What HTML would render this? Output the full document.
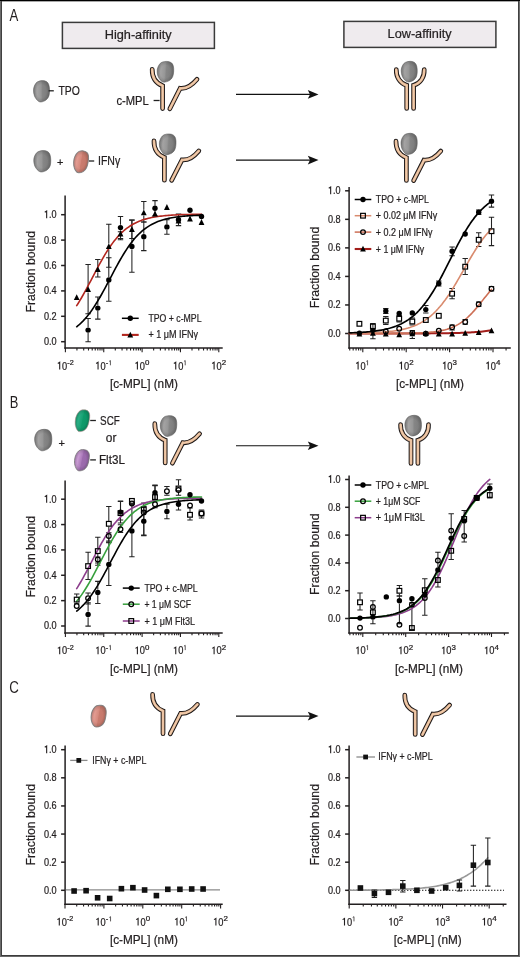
<!DOCTYPE html>
<html><head><meta charset="utf-8"><style>
html,body{margin:0;padding:0;background:#fff;overflow:hidden;}
svg{display:block;will-change:transform;}
text{font-family:"Liberation Sans", sans-serif;stroke:#231f20;stroke-width:0.22px;}
</style></head><body>
<svg width="520" height="957" viewBox="0 0 520 957">
<defs>
<linearGradient id="gGray" x1="0" y1="0" x2="1" y2="0">
<stop offset="0" stop-color="#8a8a8a"/><stop offset="0.22" stop-color="#a4a3a3"/><stop offset="0.46" stop-color="#979797"/><stop offset="0.56" stop-color="#868686"/><stop offset="1" stop-color="#787878"/>
</linearGradient>
<radialGradient id="gEdge" cx="0.5" cy="0.5" r="0.5">
<stop offset="0.6" stop-color="#000" stop-opacity="0"/><stop offset="1" stop-color="#000" stop-opacity="0.16"/>
</radialGradient>
<linearGradient id="gRed" x1="0" y1="0" x2="1" y2="0">
<stop offset="0" stop-color="#d98f86"/><stop offset="0.22" stop-color="#e39b91"/><stop offset="0.48" stop-color="#d5897d"/><stop offset="0.53" stop-color="#ca7c6f"/><stop offset="1" stop-color="#c37668"/>
</linearGradient>
<linearGradient id="gGreen" x1="0" y1="0" x2="1" y2="0">
<stop offset="0" stop-color="#1aa374"/><stop offset="0.22" stop-color="#2bae85"/><stop offset="0.48" stop-color="#17a172"/><stop offset="0.53" stop-color="#0e9b6a"/><stop offset="1" stop-color="#0c9164"/>
</linearGradient>
<linearGradient id="gPurple" x1="0" y1="0" x2="1" y2="0">
<stop offset="0" stop-color="#b98ac6"/><stop offset="0.22" stop-color="#c99cd3"/><stop offset="0.48" stop-color="#ab7aba"/><stop offset="0.53" stop-color="#9d6bae"/><stop offset="1" stop-color="#9566a8"/>
</linearGradient>
</defs>
<rect x="0" y="0" width="520" height="957" fill="#fff"/>
<g shape-rendering="crispEdges">
<rect x="0" y="0" width="1" height="957" fill="#6b6b6b"/>
<rect x="1" y="0" width="1" height="957" fill="#404040"/>
<rect x="519" y="0" width="1" height="957" fill="#6e6e6e"/>
<rect x="518" y="0" width="1" height="957" fill="#404040"/>
<rect x="0" y="956" width="520" height="1" fill="#6a6a6a"/>
<rect x="1" y="955" width="518" height="1" fill="#3c3c3c"/>
<rect x="2" y="1" width="516" height="1" fill="#a8a8a8"/>
<rect x="0" y="0" width="520" height="1" fill="#000"/>
</g>
<text x="9.4" y="20.5" font-size="15.6" text-anchor="start" fill="#231f20" textLength="8.8" lengthAdjust="spacingAndGlyphs" style="stroke:none">A</text>
<text x="9.7" y="408.1" font-size="15.6" text-anchor="start" fill="#231f20" textLength="8.6" lengthAdjust="spacingAndGlyphs" style="stroke:none">B</text>
<text x="9.3" y="693.1" font-size="15.6" text-anchor="start" fill="#231f20" textLength="9.6" lengthAdjust="spacingAndGlyphs" style="stroke:none">C</text>
<rect x="62.4" y="22.4" width="152" height="26" fill="#efebee" stroke="#3a3a3a" stroke-width="1.5"/>
<text x="138.2" y="39.4" font-size="12.6" text-anchor="middle" fill="#231f20" textLength="67" lengthAdjust="spacingAndGlyphs">High-affinity</text>
<rect x="343.9" y="21.4" width="152" height="26" fill="#efebee" stroke="#3a3a3a" stroke-width="1.5"/>
<text x="419.6" y="38.4" font-size="12.6" text-anchor="middle" fill="#231f20" textLength="64" lengthAdjust="spacingAndGlyphs">Low-affinity</text>
<g transform="translate(41.6,91.25) rotate(0)">
<path d="M0.81,-10.64C2.29,-10.68 3.81,-10.34 4.86,-9.68C5.91,-9.01 6.62,-8.06 7.13,-6.67C7.64,-5.27 7.91,-3.19 7.94,-1.29C7.96,0.61 7.88,3.05 7.29,4.73C6.7,6.41 5.7,7.81 4.37,8.81C3.05,9.82 0.76,10.68 -0.65,10.75C-2.05,10.82 -2.97,10.25 -4.05,9.24C-5.13,8.24 -6.45,6.49 -7.13,4.73C-7.8,2.97 -8.15,0.54 -8.1,-1.29C-8.05,-3.12 -7.48,-4.87 -6.8,-6.23C-6.13,-7.6 -5.32,-8.73 -4.05,-9.46C-2.78,-10.19 -0.68,-10.61 0.81,-10.64Z" fill="url(#gGray)" stroke="#6e6e6e" stroke-width="0.6"/>
<path d="M0.81,-10.64C2.29,-10.68 3.81,-10.34 4.86,-9.68C5.91,-9.01 6.62,-8.06 7.13,-6.67C7.64,-5.27 7.91,-3.19 7.94,-1.29C7.96,0.61 7.88,3.05 7.29,4.73C6.7,6.41 5.7,7.81 4.37,8.81C3.05,9.82 0.76,10.68 -0.65,10.75C-2.05,10.82 -2.97,10.25 -4.05,9.24C-5.13,8.24 -6.45,6.49 -7.13,4.73C-7.8,2.97 -8.15,0.54 -8.1,-1.29C-8.05,-3.12 -7.48,-4.87 -6.8,-6.23C-6.13,-7.6 -5.32,-8.73 -4.05,-9.46C-2.78,-10.19 -0.68,-10.61 0.81,-10.64Z" fill="url(#gEdge)"/>
</g>
<path d="M48.6,90.8H53.8" stroke="#222" stroke-width="1.3"/>
<text x="58.4" y="94.8" font-size="12.6" text-anchor="start" fill="#231f20" textLength="21.4" lengthAdjust="spacingAndGlyphs">TPO</text>
<g transform="translate(165.45,71.7) rotate(4)">
<path d="M0.83,-10.39C2.37,-10.43 3.92,-10.1 5.01,-9.45C6.1,-8.8 6.82,-7.88 7.35,-6.51C7.88,-5.14 8.16,-3.11 8.18,-1.26C8.21,0.59 8.13,2.98 7.51,4.62C6.9,6.26 5.87,7.63 4.51,8.61C3.15,9.59 0.78,10.43 -0.67,10.5C-2.12,10.57 -3.06,10.01 -4.17,9.03C-5.29,8.05 -6.65,6.33 -7.35,4.62C-8.04,2.91 -8.41,0.53 -8.35,-1.26C-8.29,-3.04 -7.71,-4.76 -7.01,-6.09C-6.32,-7.42 -5.48,-8.52 -4.17,-9.24C-2.87,-9.96 -0.7,-10.36 0.83,-10.39Z" fill="url(#gGray)" stroke="#6e6e6e" stroke-width="0.6"/>
<path d="M0.83,-10.39C2.37,-10.43 3.92,-10.1 5.01,-9.45C6.1,-8.8 6.82,-7.88 7.35,-6.51C7.88,-5.14 8.16,-3.11 8.18,-1.26C8.21,0.59 8.13,2.98 7.51,4.62C6.9,6.26 5.87,7.63 4.51,8.61C3.15,9.59 0.78,10.43 -0.67,10.5C-2.12,10.57 -3.06,10.01 -4.17,9.03C-5.29,8.05 -6.65,6.33 -7.35,4.62C-8.04,2.91 -8.41,0.53 -8.35,-1.26C-8.29,-3.04 -7.71,-4.76 -7.01,-6.09C-6.32,-7.42 -5.48,-8.52 -4.17,-9.24C-2.87,-9.96 -0.7,-10.36 0.83,-10.39Z" fill="url(#gEdge)"/>
</g>
<path d="M152.2,69.3 C152,77 155.5,83 162.6,85.8 L162.6,108.6" fill="none" stroke="#1c1818" stroke-width="4.7" stroke-linecap="round" stroke-linejoin="miter"/>
<path d="M152.2,69.3 C152,77 155.5,83 162.6,85.8 L162.6,108.6" fill="none" stroke="#e6b894" stroke-width="2.7" stroke-linecap="round" stroke-linejoin="miter"/>
<path d="M152.2,69.3 C152,77 155.5,83 162.6,85.8 L162.6,108.6" fill="none" stroke="#f1cdae" stroke-width="1.1" stroke-linecap="round" stroke-linejoin="miter"/>
<path d="M169.8,108.8 L180.2,88.3 C185,88.8 191,86.5 197,79.3" fill="none" stroke="#1c1818" stroke-width="4.7" stroke-linecap="round" stroke-linejoin="miter"/>
<path d="M169.8,108.8 L180.2,88.3 C185,88.8 191,86.5 197,79.3" fill="none" stroke="#e6b894" stroke-width="2.7" stroke-linecap="round" stroke-linejoin="miter"/>
<path d="M169.8,108.8 L180.2,88.3 C185,88.8 191,86.5 197,79.3" fill="none" stroke="#f1cdae" stroke-width="1.1" stroke-linecap="round" stroke-linejoin="miter"/>
<path d="M153.6,100.5H159.6" stroke="#222" stroke-width="1.3"/>
<text x="116.5" y="104.6" font-size="12" text-anchor="start" fill="#231f20" textLength="32.3" lengthAdjust="spacingAndGlyphs">c-MPL</text>
<path d="M236,94.4H310" stroke="#111" stroke-width="1.1"/>
<path d="M318.5,94.4 L307.8,90.1 L310,94.4 L307.8,98.7 Z" fill="#111"/>
<path d="M396.3,69.6 C396,77 400,83.5 406.7,85.3 L406.7,108.4" fill="none" stroke="#1c1818" stroke-width="4.7" stroke-linecap="round" stroke-linejoin="miter"/>
<path d="M396.3,69.6 C396,77 400,83.5 406.7,85.3 L406.7,108.4" fill="none" stroke="#e6b894" stroke-width="2.7" stroke-linecap="round" stroke-linejoin="miter"/>
<path d="M396.3,69.6 C396,77 400,83.5 406.7,85.3 L406.7,108.4" fill="none" stroke="#f1cdae" stroke-width="1.1" stroke-linecap="round" stroke-linejoin="miter"/>
<path d="M424.2,69.6 C424.5,77 420.5,83.5 413.6,85.3 L413.6,108.4" fill="none" stroke="#1c1818" stroke-width="4.7" stroke-linecap="round" stroke-linejoin="miter"/>
<path d="M424.2,69.6 C424.5,77 420.5,83.5 413.6,85.3 L413.6,108.4" fill="none" stroke="#e6b894" stroke-width="2.7" stroke-linecap="round" stroke-linejoin="miter"/>
<path d="M424.2,69.6 C424.5,77 420.5,83.5 413.6,85.3 L413.6,108.4" fill="none" stroke="#f1cdae" stroke-width="1.1" stroke-linecap="round" stroke-linejoin="miter"/>
<g transform="translate(409.3,71.6) rotate(0)">
<path d="M0.81,-10.3C2.29,-10.33 3.81,-10 4.86,-9.36C5.91,-8.72 6.62,-7.8 7.13,-6.45C7.64,-5.1 7.91,-3.09 7.94,-1.25C7.96,0.59 7.88,2.95 7.29,4.58C6.7,6.21 5.7,7.56 4.37,8.53C3.05,9.5 0.76,10.33 -0.65,10.4C-2.05,10.47 -2.97,9.91 -4.05,8.94C-5.13,7.97 -6.45,6.27 -7.13,4.58C-7.8,2.88 -8.15,0.52 -8.1,-1.25C-8.05,-3.02 -7.48,-4.71 -6.8,-6.03C-6.13,-7.35 -5.32,-8.44 -4.05,-9.15C-2.78,-9.86 -0.68,-10.26 0.81,-10.3Z" fill="url(#gGray)" stroke="#6e6e6e" stroke-width="0.6"/>
<path d="M0.81,-10.3C2.29,-10.33 3.81,-10 4.86,-9.36C5.91,-8.72 6.62,-7.8 7.13,-6.45C7.64,-5.1 7.91,-3.09 7.94,-1.25C7.96,0.59 7.88,2.95 7.29,4.58C6.7,6.21 5.7,7.56 4.37,8.53C3.05,9.5 0.76,10.33 -0.65,10.4C-2.05,10.47 -2.97,9.91 -4.05,8.94C-5.13,7.97 -6.45,6.27 -7.13,4.58C-7.8,2.88 -8.15,0.52 -8.1,-1.25C-8.05,-3.02 -7.48,-4.71 -6.8,-6.03C-6.13,-7.35 -5.32,-8.44 -4.05,-9.15C-2.78,-9.86 -0.68,-10.26 0.81,-10.3Z" fill="url(#gEdge)"/>
</g>
<g transform="translate(42.35,161.2) rotate(0)">
<path d="M0.86,-10.69C2.44,-10.73 4.04,-10.39 5.16,-9.72C6.28,-9.05 7.02,-8.1 7.57,-6.7C8.11,-5.29 8.4,-3.2 8.43,-1.3C8.46,0.61 8.37,3.06 7.74,4.75C7.11,6.44 6.05,7.85 4.64,8.86C3.24,9.86 0.8,10.73 -0.69,10.8C-2.18,10.87 -3.15,10.3 -4.3,9.29C-5.45,8.28 -6.85,6.52 -7.57,4.75C-8.28,2.99 -8.66,0.54 -8.6,-1.3C-8.54,-3.13 -7.94,-4.9 -7.22,-6.26C-6.51,-7.63 -5.65,-8.77 -4.3,-9.5C-2.95,-10.24 -0.72,-10.66 0.86,-10.69Z" fill="url(#gGray)" stroke="#6e6e6e" stroke-width="0.6"/>
<path d="M0.86,-10.69C2.44,-10.73 4.04,-10.39 5.16,-9.72C6.28,-9.05 7.02,-8.1 7.57,-6.7C8.11,-5.29 8.4,-3.2 8.43,-1.3C8.46,0.61 8.37,3.06 7.74,4.75C7.11,6.44 6.05,7.85 4.64,8.86C3.24,9.86 0.8,10.73 -0.69,10.8C-2.18,10.87 -3.15,10.3 -4.3,9.29C-5.45,8.28 -6.85,6.52 -7.57,4.75C-8.28,2.99 -8.66,0.54 -8.6,-1.3C-8.54,-3.13 -7.94,-4.9 -7.22,-6.26C-6.51,-7.63 -5.65,-8.77 -4.3,-9.5C-2.95,-10.24 -0.72,-10.66 0.86,-10.69Z" fill="url(#gEdge)"/>
</g>
<text x="60.3" y="165.6" font-size="11" text-anchor="middle" fill="#231f20">+</text>
<g transform="translate(80.95,161.8) rotate(10)">
<path d="M0.73,-11.19C2.07,-11.22 3.43,-10.87 4.38,-10.17C5.33,-9.47 5.96,-8.48 6.42,-7.01C6.89,-5.54 7.13,-3.35 7.15,-1.36C7.18,0.64 7.11,3.2 6.57,4.97C6.03,6.74 5.13,8.21 3.94,9.27C2.75,10.32 0.68,11.22 -0.58,11.3C-1.85,11.38 -2.68,10.77 -3.65,9.72C-4.62,8.66 -5.82,6.82 -6.42,4.97C-7.03,3.13 -7.35,0.56 -7.3,-1.36C-7.25,-3.28 -6.74,-5.12 -6.13,-6.55C-5.52,-7.99 -4.79,-9.17 -3.65,-9.94C-2.51,-10.72 -0.61,-11.15 0.73,-11.19Z" fill="url(#gRed)" stroke="#8f8f8f" stroke-width="1"/>
<path d="M0.73,-11.19C2.07,-11.22 3.43,-10.87 4.38,-10.17C5.33,-9.47 5.96,-8.48 6.42,-7.01C6.89,-5.54 7.13,-3.35 7.15,-1.36C7.18,0.64 7.11,3.2 6.57,4.97C6.03,6.74 5.13,8.21 3.94,9.27C2.75,10.32 0.68,11.22 -0.58,11.3C-1.85,11.38 -2.68,10.77 -3.65,9.72C-4.62,8.66 -5.82,6.82 -6.42,4.97C-7.03,3.13 -7.35,0.56 -7.3,-1.36C-7.25,-3.28 -6.74,-5.12 -6.13,-6.55C-5.52,-7.99 -4.79,-9.17 -3.65,-9.94C-2.51,-10.72 -0.61,-11.15 0.73,-11.19Z" fill="url(#gEdge)"/>
</g>
<path d="M89,161H94.2" stroke="#222" stroke-width="1.3"/>
<text x="98" y="164.8" font-size="12" text-anchor="start" fill="#231f20" textLength="22.2" lengthAdjust="spacingAndGlyphs">IFNγ</text>
<path d="M154,140.9 C153.8,148.6 157.3,154.6 164.4,157.4 L164.4,180.2" fill="none" stroke="#1c1818" stroke-width="4.7" stroke-linecap="round" stroke-linejoin="miter"/>
<path d="M154,140.9 C153.8,148.6 157.3,154.6 164.4,157.4 L164.4,180.2" fill="none" stroke="#e6b894" stroke-width="2.7" stroke-linecap="round" stroke-linejoin="miter"/>
<path d="M154,140.9 C153.8,148.6 157.3,154.6 164.4,157.4 L164.4,180.2" fill="none" stroke="#f1cdae" stroke-width="1.1" stroke-linecap="round" stroke-linejoin="miter"/>
<path d="M171.6,180.4 L182,159.9 C186.8,160.4 192.8,158.1 198.8,150.9" fill="none" stroke="#1c1818" stroke-width="4.7" stroke-linecap="round" stroke-linejoin="miter"/>
<path d="M171.6,180.4 L182,159.9 C186.8,160.4 192.8,158.1 198.8,150.9" fill="none" stroke="#e6b894" stroke-width="2.7" stroke-linecap="round" stroke-linejoin="miter"/>
<path d="M171.6,180.4 L182,159.9 C186.8,160.4 192.8,158.1 198.8,150.9" fill="none" stroke="#f1cdae" stroke-width="1.1" stroke-linecap="round" stroke-linejoin="miter"/>
<g transform="translate(167.7,144.25) rotate(4)">
<path d="M0.84,-10.39C2.38,-10.43 3.95,-10.1 5.04,-9.45C6.13,-8.8 6.86,-7.88 7.39,-6.51C7.92,-5.14 8.2,-3.11 8.23,-1.26C8.26,0.59 8.18,2.98 7.56,4.62C6.94,6.26 5.91,7.63 4.54,8.61C3.16,9.59 0.78,10.43 -0.67,10.5C-2.13,10.57 -3.08,10.01 -4.2,9.03C-5.32,8.05 -6.69,6.33 -7.39,4.62C-8.09,2.91 -8.46,0.53 -8.4,-1.26C-8.34,-3.04 -7.76,-4.76 -7.06,-6.09C-6.36,-7.42 -5.52,-8.52 -4.2,-9.24C-2.88,-9.96 -0.7,-10.36 0.84,-10.39Z" fill="url(#gGray)" stroke="#6e6e6e" stroke-width="0.6"/>
<path d="M0.84,-10.39C2.38,-10.43 3.95,-10.1 5.04,-9.45C6.13,-8.8 6.86,-7.88 7.39,-6.51C7.92,-5.14 8.2,-3.11 8.23,-1.26C8.26,0.59 8.18,2.98 7.56,4.62C6.94,6.26 5.91,7.63 4.54,8.61C3.16,9.59 0.78,10.43 -0.67,10.5C-2.13,10.57 -3.08,10.01 -4.2,9.03C-5.32,8.05 -6.69,6.33 -7.39,4.62C-8.09,2.91 -8.46,0.53 -8.4,-1.26C-8.34,-3.04 -7.76,-4.76 -7.06,-6.09C-6.36,-7.42 -5.52,-8.52 -4.2,-9.24C-2.88,-9.96 -0.7,-10.36 0.84,-10.39Z" fill="url(#gEdge)"/>
</g>
<path d="M236,160.1H310" stroke="#111" stroke-width="1.1"/>
<path d="M318.5,160.1 L307.8,155.8 L310,160.1 L307.8,164.4 Z" fill="#111"/>
<path d="M396,141.1 C395.8,148.8 399.3,154.8 406.4,157.6 L406.4,180.4" fill="none" stroke="#1c1818" stroke-width="4.7" stroke-linecap="round" stroke-linejoin="miter"/>
<path d="M396,141.1 C395.8,148.8 399.3,154.8 406.4,157.6 L406.4,180.4" fill="none" stroke="#e6b894" stroke-width="2.7" stroke-linecap="round" stroke-linejoin="miter"/>
<path d="M396,141.1 C395.8,148.8 399.3,154.8 406.4,157.6 L406.4,180.4" fill="none" stroke="#f1cdae" stroke-width="1.1" stroke-linecap="round" stroke-linejoin="miter"/>
<path d="M413.6,180.6 L424,160.1 C428.8,160.6 434.8,158.3 440.8,151.1" fill="none" stroke="#1c1818" stroke-width="4.7" stroke-linecap="round" stroke-linejoin="miter"/>
<path d="M413.6,180.6 L424,160.1 C428.8,160.6 434.8,158.3 440.8,151.1" fill="none" stroke="#e6b894" stroke-width="2.7" stroke-linecap="round" stroke-linejoin="miter"/>
<path d="M413.6,180.6 L424,160.1 C428.8,160.6 434.8,158.3 440.8,151.1" fill="none" stroke="#f1cdae" stroke-width="1.1" stroke-linecap="round" stroke-linejoin="miter"/>
<g transform="translate(409.15,143.85) rotate(2)">
<path d="M0.82,-10.59C2.32,-10.63 3.85,-10.29 4.92,-9.63C5.99,-8.97 6.7,-8.02 7.22,-6.63C7.74,-5.24 8.01,-3.17 8.04,-1.28C8.06,0.61 7.98,3.03 7.38,4.71C6.78,6.38 5.77,7.78 4.43,8.77C3.09,9.77 0.77,10.63 -0.66,10.7C-2.08,10.77 -3.01,10.2 -4.1,9.2C-5.19,8.2 -6.53,6.46 -7.22,4.71C-7.9,2.96 -8.25,0.53 -8.2,-1.28C-8.15,-3.1 -7.57,-4.85 -6.89,-6.21C-6.2,-7.56 -5.38,-8.68 -4.1,-9.42C-2.82,-10.15 -0.68,-10.56 0.82,-10.59Z" fill="url(#gGray)" stroke="#6e6e6e" stroke-width="0.6"/>
<path d="M0.82,-10.59C2.32,-10.63 3.85,-10.29 4.92,-9.63C5.99,-8.97 6.7,-8.02 7.22,-6.63C7.74,-5.24 8.01,-3.17 8.04,-1.28C8.06,0.61 7.98,3.03 7.38,4.71C6.78,6.38 5.77,7.78 4.43,8.77C3.09,9.77 0.77,10.63 -0.66,10.7C-2.08,10.77 -3.01,10.2 -4.1,9.2C-5.19,8.2 -6.53,6.46 -7.22,4.71C-7.9,2.96 -8.25,0.53 -8.2,-1.28C-8.15,-3.1 -7.57,-4.85 -6.89,-6.21C-6.2,-7.56 -5.38,-8.68 -4.1,-9.42C-2.82,-10.15 -0.68,-10.56 0.82,-10.59Z" fill="url(#gEdge)"/>
</g>
<g transform="translate(43.3,440) rotate(0)">
<path d="M0.87,-10.69C2.46,-10.73 4.09,-10.39 5.22,-9.72C6.35,-9.05 7.1,-8.1 7.66,-6.7C8.21,-5.29 8.5,-3.2 8.53,-1.3C8.55,0.61 8.47,3.06 7.83,4.75C7.19,6.44 6.12,7.85 4.7,8.86C3.28,9.86 0.81,10.73 -0.7,10.8C-2.2,10.87 -3.19,10.3 -4.35,9.29C-5.51,8.28 -6.93,6.52 -7.66,4.75C-8.38,2.99 -8.76,0.54 -8.7,-1.3C-8.64,-3.13 -8.03,-4.9 -7.31,-6.26C-6.58,-7.63 -5.71,-8.77 -4.35,-9.5C-2.99,-10.24 -0.72,-10.66 0.87,-10.69Z" fill="url(#gGray)" stroke="#6e6e6e" stroke-width="0.6"/>
<path d="M0.87,-10.69C2.46,-10.73 4.09,-10.39 5.22,-9.72C6.35,-9.05 7.1,-8.1 7.66,-6.7C8.21,-5.29 8.5,-3.2 8.53,-1.3C8.55,0.61 8.47,3.06 7.83,4.75C7.19,6.44 6.12,7.85 4.7,8.86C3.28,9.86 0.81,10.73 -0.7,10.8C-2.2,10.87 -3.19,10.3 -4.35,9.29C-5.51,8.28 -6.93,6.52 -7.66,4.75C-8.38,2.99 -8.76,0.54 -8.7,-1.3C-8.64,-3.13 -8.03,-4.9 -7.31,-6.26C-6.58,-7.63 -5.71,-8.77 -4.35,-9.5C-2.99,-10.24 -0.72,-10.66 0.87,-10.69Z" fill="url(#gEdge)"/>
</g>
<text x="61.6" y="446.6" font-size="11" text-anchor="middle" fill="#231f20">+</text>
<g transform="translate(82.25,420.65) rotate(12)">
<path d="M0.7,-11.19C1.98,-11.22 3.29,-10.87 4.2,-10.17C5.11,-9.47 5.72,-8.48 6.16,-7.01C6.6,-5.54 6.84,-3.35 6.86,-1.36C6.88,0.64 6.81,3.2 6.3,4.97C5.79,6.74 4.92,8.21 3.78,9.27C2.64,10.32 0.65,11.22 -0.56,11.3C-1.77,11.38 -2.57,10.77 -3.5,9.72C-4.43,8.66 -5.58,6.82 -6.16,4.97C-6.74,3.13 -7.05,0.56 -7,-1.36C-6.95,-3.28 -6.46,-5.12 -5.88,-6.55C-5.3,-7.99 -4.6,-9.17 -3.5,-9.94C-2.4,-10.72 -0.58,-11.15 0.7,-11.19Z" fill="url(#gGreen)" stroke="#c8a0a0" stroke-width="0.6"/>
<path d="M0.7,-11.19C1.98,-11.22 3.29,-10.87 4.2,-10.17C5.11,-9.47 5.72,-8.48 6.16,-7.01C6.6,-5.54 6.84,-3.35 6.86,-1.36C6.88,0.64 6.81,3.2 6.3,4.97C5.79,6.74 4.92,8.21 3.78,9.27C2.64,10.32 0.65,11.22 -0.56,11.3C-1.77,11.38 -2.57,10.77 -3.5,9.72C-4.43,8.66 -5.58,6.82 -6.16,4.97C-6.74,3.13 -7.05,0.56 -7,-1.36C-6.95,-3.28 -6.46,-5.12 -5.88,-6.55C-5.3,-7.99 -4.6,-9.17 -3.5,-9.94C-2.4,-10.72 -0.58,-11.15 0.7,-11.19Z" fill="url(#gEdge)"/>
</g>
<path d="M90.2,420.5H95.9" stroke="#222" stroke-width="1.3"/>
<text x="100.1" y="425" font-size="12" text-anchor="start" fill="#231f20" textLength="19.7" lengthAdjust="spacingAndGlyphs">SCF</text>
<text x="111.1" y="442.3" font-size="12" text-anchor="middle" fill="#231f20" textLength="10.6" lengthAdjust="spacingAndGlyphs">or</text>
<g transform="translate(81.75,460.2) rotate(12)">
<path d="M0.72,-10.89C2.04,-10.93 3.38,-10.58 4.32,-9.9C5.26,-9.22 5.88,-8.25 6.34,-6.82C6.79,-5.39 7.03,-3.26 7.06,-1.32C7.08,0.62 7.01,3.12 6.48,4.84C5.95,6.56 5.06,7.99 3.89,9.02C2.71,10.05 0.67,10.93 -0.58,11C-1.82,11.07 -2.64,10.49 -3.6,9.46C-4.56,8.43 -5.74,6.64 -6.34,4.84C-6.94,3.04 -7.25,0.55 -7.2,-1.32C-7.15,-3.19 -6.65,-4.99 -6.05,-6.38C-5.45,-7.77 -4.73,-8.93 -3.6,-9.68C-2.47,-10.43 -0.6,-10.85 0.72,-10.89Z" fill="url(#gPurple)" stroke="#8a8a8a" stroke-width="0.8"/>
<path d="M0.72,-10.89C2.04,-10.93 3.38,-10.58 4.32,-9.9C5.26,-9.22 5.88,-8.25 6.34,-6.82C6.79,-5.39 7.03,-3.26 7.06,-1.32C7.08,0.62 7.01,3.12 6.48,4.84C5.95,6.56 5.06,7.99 3.89,9.02C2.71,10.05 0.67,10.93 -0.58,11C-1.82,11.07 -2.64,10.49 -3.6,9.46C-4.56,8.43 -5.74,6.64 -6.34,4.84C-6.94,3.04 -7.25,0.55 -7.2,-1.32C-7.15,-3.19 -6.65,-4.99 -6.05,-6.38C-5.45,-7.77 -4.73,-8.93 -3.6,-9.68C-2.47,-10.43 -0.6,-10.85 0.72,-10.89Z" fill="url(#gEdge)"/>
</g>
<path d="M90.2,459.9H95.9" stroke="#222" stroke-width="1.3"/>
<text x="99" y="463.9" font-size="12" text-anchor="start" fill="#231f20" textLength="25.9" lengthAdjust="spacingAndGlyphs">Flt3L</text>
<path d="M154.8,423.7 C154.6,431.4 158.1,437.4 165.2,440.2 L165.2,463" fill="none" stroke="#1c1818" stroke-width="4.7" stroke-linecap="round" stroke-linejoin="miter"/>
<path d="M154.8,423.7 C154.6,431.4 158.1,437.4 165.2,440.2 L165.2,463" fill="none" stroke="#e6b894" stroke-width="2.7" stroke-linecap="round" stroke-linejoin="miter"/>
<path d="M154.8,423.7 C154.6,431.4 158.1,437.4 165.2,440.2 L165.2,463" fill="none" stroke="#f1cdae" stroke-width="1.1" stroke-linecap="round" stroke-linejoin="miter"/>
<path d="M172.4,463.2 L182.8,442.7 C187.6,443.2 193.6,440.9 199.6,433.7" fill="none" stroke="#1c1818" stroke-width="4.7" stroke-linecap="round" stroke-linejoin="miter"/>
<path d="M172.4,463.2 L182.8,442.7 C187.6,443.2 193.6,440.9 199.6,433.7" fill="none" stroke="#e6b894" stroke-width="2.7" stroke-linecap="round" stroke-linejoin="miter"/>
<path d="M172.4,463.2 L182.8,442.7 C187.6,443.2 193.6,440.9 199.6,433.7" fill="none" stroke="#f1cdae" stroke-width="1.1" stroke-linecap="round" stroke-linejoin="miter"/>
<g transform="translate(168.55,425.95) rotate(4)">
<path d="M0.83,-10.39C2.35,-10.43 3.9,-10.1 4.98,-9.45C6.06,-8.8 6.78,-7.88 7.3,-6.51C7.83,-5.14 8.11,-3.11 8.13,-1.26C8.16,0.59 8.08,2.98 7.47,4.62C6.86,6.26 5.84,7.63 4.48,8.61C3.13,9.59 0.77,10.43 -0.66,10.5C-2.1,10.57 -3.04,10.01 -4.15,9.03C-5.26,8.05 -6.61,6.33 -7.3,4.62C-8,2.91 -8.36,0.53 -8.3,-1.26C-8.24,-3.04 -7.66,-4.76 -6.97,-6.09C-6.28,-7.42 -5.45,-8.52 -4.15,-9.24C-2.85,-9.96 -0.69,-10.36 0.83,-10.39Z" fill="url(#gGray)" stroke="#6e6e6e" stroke-width="0.6"/>
<path d="M0.83,-10.39C2.35,-10.43 3.9,-10.1 4.98,-9.45C6.06,-8.8 6.78,-7.88 7.3,-6.51C7.83,-5.14 8.11,-3.11 8.13,-1.26C8.16,0.59 8.08,2.98 7.47,4.62C6.86,6.26 5.84,7.63 4.48,8.61C3.13,9.59 0.77,10.43 -0.66,10.5C-2.1,10.57 -3.04,10.01 -4.15,9.03C-5.26,8.05 -6.61,6.33 -7.3,4.62C-8,2.91 -8.36,0.53 -8.3,-1.26C-8.24,-3.04 -7.66,-4.76 -6.97,-6.09C-6.28,-7.42 -5.45,-8.52 -4.15,-9.24C-2.85,-9.96 -0.69,-10.36 0.83,-10.39Z" fill="url(#gEdge)"/>
</g>
<path d="M236,445.8H310" stroke="#111" stroke-width="1.1"/>
<path d="M318.5,445.8 L307.8,441.5 L310,445.8 L307.8,450.1 Z" fill="#111"/>
<path d="M400.6,424.6 C400.3,432 404.3,438.5 411,440.3 L411,463.4" fill="none" stroke="#1c1818" stroke-width="4.7" stroke-linecap="round" stroke-linejoin="miter"/>
<path d="M400.6,424.6 C400.3,432 404.3,438.5 411,440.3 L411,463.4" fill="none" stroke="#e6b894" stroke-width="2.7" stroke-linecap="round" stroke-linejoin="miter"/>
<path d="M400.6,424.6 C400.3,432 404.3,438.5 411,440.3 L411,463.4" fill="none" stroke="#f1cdae" stroke-width="1.1" stroke-linecap="round" stroke-linejoin="miter"/>
<path d="M428.5,424.6 C428.8,432 424.8,438.5 417.9,440.3 L417.9,463.4" fill="none" stroke="#1c1818" stroke-width="4.7" stroke-linecap="round" stroke-linejoin="miter"/>
<path d="M428.5,424.6 C428.8,432 424.8,438.5 417.9,440.3 L417.9,463.4" fill="none" stroke="#e6b894" stroke-width="2.7" stroke-linecap="round" stroke-linejoin="miter"/>
<path d="M428.5,424.6 C428.8,432 424.8,438.5 417.9,440.3 L417.9,463.4" fill="none" stroke="#f1cdae" stroke-width="1.1" stroke-linecap="round" stroke-linejoin="miter"/>
<g transform="translate(413.25,425.6) rotate(0)">
<path d="M0.84,-10.3C2.38,-10.33 3.95,-10 5.04,-9.36C6.13,-8.72 6.86,-7.8 7.39,-6.45C7.92,-5.1 8.2,-3.09 8.23,-1.25C8.26,0.59 8.18,2.95 7.56,4.58C6.94,6.21 5.91,7.56 4.54,8.53C3.16,9.5 0.78,10.33 -0.67,10.4C-2.13,10.47 -3.08,9.91 -4.2,8.94C-5.32,7.97 -6.69,6.27 -7.39,4.58C-8.09,2.88 -8.46,0.52 -8.4,-1.25C-8.34,-3.02 -7.76,-4.71 -7.06,-6.03C-6.36,-7.35 -5.52,-8.44 -4.2,-9.15C-2.88,-9.86 -0.7,-10.26 0.84,-10.3Z" fill="url(#gGray)" stroke="#6e6e6e" stroke-width="0.6"/>
<path d="M0.84,-10.3C2.38,-10.33 3.95,-10 5.04,-9.36C6.13,-8.72 6.86,-7.8 7.39,-6.45C7.92,-5.1 8.2,-3.09 8.23,-1.25C8.26,0.59 8.18,2.95 7.56,4.58C6.94,6.21 5.91,7.56 4.54,8.53C3.16,9.5 0.78,10.33 -0.67,10.4C-2.13,10.47 -3.08,9.91 -4.2,8.94C-5.32,7.97 -6.69,6.27 -7.39,4.58C-8.09,2.88 -8.46,0.52 -8.4,-1.25C-8.34,-3.02 -7.76,-4.71 -7.06,-6.03C-6.36,-7.35 -5.52,-8.44 -4.2,-9.15C-2.88,-9.86 -0.7,-10.26 0.84,-10.3Z" fill="url(#gEdge)"/>
</g>
<g transform="translate(98.5,716.15) rotate(10)">
<path d="M0.74,-11.09C2.1,-11.13 3.48,-10.77 4.44,-10.08C5.4,-9.39 6.04,-8.4 6.51,-6.94C6.98,-5.49 7.23,-3.32 7.25,-1.34C7.28,0.63 7.2,3.17 6.66,4.93C6.12,6.68 5.2,8.14 4,9.18C2.79,10.23 0.69,11.13 -0.59,11.2C-1.87,11.27 -2.71,10.68 -3.7,9.63C-4.69,8.59 -5.9,6.76 -6.51,4.93C-7.13,3.1 -7.45,0.56 -7.4,-1.34C-7.35,-3.25 -6.83,-5.08 -6.22,-6.5C-5.6,-7.91 -4.86,-9.09 -3.7,-9.86C-2.54,-10.62 -0.62,-11.05 0.74,-11.09Z" fill="url(#gRed)" stroke="#8f8f8f" stroke-width="1"/>
<path d="M0.74,-11.09C2.1,-11.13 3.48,-10.77 4.44,-10.08C5.4,-9.39 6.04,-8.4 6.51,-6.94C6.98,-5.49 7.23,-3.32 7.25,-1.34C7.28,0.63 7.2,3.17 6.66,4.93C6.12,6.68 5.2,8.14 4,9.18C2.79,10.23 0.69,11.13 -0.59,11.2C-1.87,11.27 -2.71,10.68 -3.7,9.63C-4.69,8.59 -5.9,6.76 -6.51,4.93C-7.13,3.1 -7.45,0.56 -7.4,-1.34C-7.35,-3.25 -6.83,-5.08 -6.22,-6.5C-5.6,-7.91 -4.86,-9.09 -3.7,-9.86C-2.54,-10.62 -0.62,-11.05 0.74,-11.09Z" fill="url(#gEdge)"/>
</g>
<path d="M152.6,694.4 C152.4,702.1 155.9,708.1 163,710.9 L163,733.7" fill="none" stroke="#1c1818" stroke-width="4.7" stroke-linecap="round" stroke-linejoin="miter"/>
<path d="M152.6,694.4 C152.4,702.1 155.9,708.1 163,710.9 L163,733.7" fill="none" stroke="#e6b894" stroke-width="2.7" stroke-linecap="round" stroke-linejoin="miter"/>
<path d="M152.6,694.4 C152.4,702.1 155.9,708.1 163,710.9 L163,733.7" fill="none" stroke="#f1cdae" stroke-width="1.1" stroke-linecap="round" stroke-linejoin="miter"/>
<path d="M170.2,733.9 L180.6,713.4 C185.4,713.9 191.4,711.6 197.4,704.4" fill="none" stroke="#1c1818" stroke-width="4.7" stroke-linecap="round" stroke-linejoin="miter"/>
<path d="M170.2,733.9 L180.6,713.4 C185.4,713.9 191.4,711.6 197.4,704.4" fill="none" stroke="#e6b894" stroke-width="2.7" stroke-linecap="round" stroke-linejoin="miter"/>
<path d="M170.2,733.9 L180.6,713.4 C185.4,713.9 191.4,711.6 197.4,704.4" fill="none" stroke="#f1cdae" stroke-width="1.1" stroke-linecap="round" stroke-linejoin="miter"/>
<path d="M236,716.1H310" stroke="#111" stroke-width="1.1"/>
<path d="M318.5,716.1 L307.8,711.8 L310,716.1 L307.8,720.4 Z" fill="#111"/>
<path d="M404.8,695.1 C404.6,702.8 408.1,708.8 415.2,711.6 L415.2,734.4" fill="none" stroke="#1c1818" stroke-width="4.7" stroke-linecap="round" stroke-linejoin="miter"/>
<path d="M404.8,695.1 C404.6,702.8 408.1,708.8 415.2,711.6 L415.2,734.4" fill="none" stroke="#e6b894" stroke-width="2.7" stroke-linecap="round" stroke-linejoin="miter"/>
<path d="M404.8,695.1 C404.6,702.8 408.1,708.8 415.2,711.6 L415.2,734.4" fill="none" stroke="#f1cdae" stroke-width="1.1" stroke-linecap="round" stroke-linejoin="miter"/>
<path d="M422.4,734.6 L432.8,714.1 C437.6,714.6 443.6,712.3 449.6,705.1" fill="none" stroke="#1c1818" stroke-width="4.7" stroke-linecap="round" stroke-linejoin="miter"/>
<path d="M422.4,734.6 L432.8,714.1 C437.6,714.6 443.6,712.3 449.6,705.1" fill="none" stroke="#e6b894" stroke-width="2.7" stroke-linecap="round" stroke-linejoin="miter"/>
<path d="M422.4,734.6 L432.8,714.1 C437.6,714.6 443.6,712.3 449.6,705.1" fill="none" stroke="#f1cdae" stroke-width="1.1" stroke-linecap="round" stroke-linejoin="miter"/>
<g stroke="#231f20" stroke-width="1.5" fill="none">
<path d="M65.1,195.4V348.85"/>
<path d="M64.35,348.1H222.7"/>
<path d="M61.1,341.7H65.1"/>
<path d="M61.1,316.3H65.1"/>
<path d="M61.1,290.9H65.1"/>
<path d="M61.1,265.5H65.1"/>
<path d="M61.1,240.1H65.1"/>
<path d="M61.1,214.7H65.1"/>
<path stroke-width="1.1" d="M65.4,348.1v4.2M76.94,348.1v2.4M83.7,348.1v2.4M88.49,348.1v2.4M92.21,348.1v2.4M95.24,348.1v2.4M97.81,348.1v2.4M100.03,348.1v2.4M102,348.1v2.4M103.75,348.1v4.2M115.29,348.1v2.4M122.05,348.1v2.4M126.84,348.1v2.4M130.56,348.1v2.4M133.59,348.1v2.4M136.16,348.1v2.4M138.38,348.1v2.4M140.35,348.1v2.4M142.1,348.1v4.2M153.64,348.1v2.4M160.4,348.1v2.4M165.19,348.1v2.4M168.91,348.1v2.4M171.94,348.1v2.4M174.51,348.1v2.4M176.73,348.1v2.4M178.7,348.1v2.4M180.45,348.1v4.2M191.99,348.1v2.4M198.75,348.1v2.4M203.54,348.1v2.4M207.26,348.1v2.4M210.29,348.1v2.4M212.86,348.1v2.4M215.08,348.1v2.4M217.05,348.1v2.4M218.8,348.1v4.2"/>
</g>
<text x="56.6" y="345.15" font-size="10" text-anchor="end" fill="#231f20" textLength="12.7" lengthAdjust="spacingAndGlyphs">0.0</text>
<text x="56.6" y="319.75" font-size="10" text-anchor="end" fill="#231f20" textLength="12.7" lengthAdjust="spacingAndGlyphs">0.2</text>
<text x="56.6" y="294.35" font-size="10" text-anchor="end" fill="#231f20" textLength="12.7" lengthAdjust="spacingAndGlyphs">0.4</text>
<text x="56.6" y="268.95" font-size="10" text-anchor="end" fill="#231f20" textLength="12.7" lengthAdjust="spacingAndGlyphs">0.6</text>
<text x="56.6" y="243.55" font-size="10" text-anchor="end" fill="#231f20" textLength="12.7" lengthAdjust="spacingAndGlyphs">0.8</text>
<path fill="none" stroke="#231f20" stroke-width="1.1" stroke-linejoin="miter" d="M44.76,212.2L46.66,211V218.15"/>
<text x="56.6" y="218.15" font-size="10" text-anchor="end" fill="#231f20" textLength="7.56" lengthAdjust="spacingAndGlyphs">.0</text>
<path fill="none" stroke="#231f20" stroke-width="1.1" stroke-linejoin="miter" d="M57.8,363.55L59.7,362.35V369.5"/>
<text x="62.1" y="369.5" font-size="10" text-anchor="start" fill="#231f20" textLength="5.15" lengthAdjust="spacingAndGlyphs">0</text>
<text x="67.35" y="365.3" font-size="6.6" text-anchor="start" fill="#231f20" textLength="6.4" lengthAdjust="spacingAndGlyphs">-2</text>
<path fill="none" stroke="#231f20" stroke-width="1.1" stroke-linejoin="miter" d="M96.15,363.55L98.05,362.35V369.5"/>
<text x="100.45" y="369.5" font-size="10" text-anchor="start" fill="#231f20" textLength="5.15" lengthAdjust="spacingAndGlyphs">0</text>
<text x="105.7" y="365.3" font-size="6.6" text-anchor="start" fill="#231f20" textLength="2.5" lengthAdjust="spacingAndGlyphs">-</text>
<path fill="none" stroke="#231f20" stroke-width="0.73" stroke-linejoin="miter" d="M109.16,361.37L110.41,360.58V365.3"/>
<path fill="none" stroke="#231f20" stroke-width="1.1" stroke-linejoin="miter" d="M135.5,363.55L137.4,362.35V369.5"/>
<text x="139.8" y="369.5" font-size="10" text-anchor="start" fill="#231f20" textLength="5.15" lengthAdjust="spacingAndGlyphs">0</text>
<text x="145.05" y="365.3" font-size="6.6" text-anchor="start" fill="#231f20" textLength="4.4" lengthAdjust="spacingAndGlyphs">0</text>
<path fill="none" stroke="#231f20" stroke-width="1.1" stroke-linejoin="miter" d="M173.85,363.55L175.75,362.35V369.5"/>
<text x="178.15" y="369.5" font-size="10" text-anchor="start" fill="#231f20" textLength="5.15" lengthAdjust="spacingAndGlyphs">0</text>
<path fill="none" stroke="#231f20" stroke-width="0.73" stroke-linejoin="miter" d="M183.96,361.37L185.22,360.58V365.3"/>
<path fill="none" stroke="#231f20" stroke-width="1.1" stroke-linejoin="miter" d="M212.2,363.55L214.1,362.35V369.5"/>
<text x="216.5" y="369.5" font-size="10" text-anchor="start" fill="#231f20" textLength="5.15" lengthAdjust="spacingAndGlyphs">0</text>
<text x="221.75" y="365.3" font-size="6.6" text-anchor="start" fill="#231f20" textLength="4.4" lengthAdjust="spacingAndGlyphs">2</text>
<text x="143.9" y="387.7" font-size="12.2" text-anchor="middle" fill="#231f20" textLength="68" lengthAdjust="spacingAndGlyphs">[c-MPL] (nM)</text>
<text transform="translate(34.8,271.75) rotate(-90)" font-size="12.2" text-anchor="middle" fill="#231f20" textLength="81.5" lengthAdjust="spacingAndGlyphs">Fraction bound</text>
<g stroke="#231f20" stroke-width="1.5" fill="none">
<path d="M349.1,187V348.85"/>
<path d="M348.35,348.1H510.8"/>
<path d="M345.1,333.5H349.1"/>
<path d="M345.1,304.96H349.1"/>
<path d="M345.1,276.42H349.1"/>
<path d="M345.1,247.88H349.1"/>
<path d="M345.1,219.34H349.1"/>
<path d="M345.1,190.8H349.1"/>
<path stroke-width="1.1" d="M349.74,348.1v2.4M353.17,348.1v2.4M356.08,348.1v2.4M358.59,348.1v2.4M360.81,348.1v2.4M362.8,348.1v4.2M375.86,348.1v2.4M383.51,348.1v2.4M388.93,348.1v2.4M393.14,348.1v2.4M396.57,348.1v2.4M399.48,348.1v2.4M401.99,348.1v2.4M404.21,348.1v2.4M406.2,348.1v4.2M419.26,348.1v2.4M426.91,348.1v2.4M432.33,348.1v2.4M436.54,348.1v2.4M439.97,348.1v2.4M442.88,348.1v2.4M445.39,348.1v2.4M447.61,348.1v2.4M449.6,348.1v4.2M462.66,348.1v2.4M470.31,348.1v2.4M475.73,348.1v2.4M479.94,348.1v2.4M483.37,348.1v2.4M486.28,348.1v2.4M488.79,348.1v2.4M491.01,348.1v2.4M493,348.1v4.2M506.06,348.1v2.4"/>
</g>
<text x="340.6" y="336.95" font-size="10" text-anchor="end" fill="#231f20" textLength="12.7" lengthAdjust="spacingAndGlyphs">0.0</text>
<text x="340.6" y="308.41" font-size="10" text-anchor="end" fill="#231f20" textLength="12.7" lengthAdjust="spacingAndGlyphs">0.2</text>
<text x="340.6" y="279.87" font-size="10" text-anchor="end" fill="#231f20" textLength="12.7" lengthAdjust="spacingAndGlyphs">0.4</text>
<text x="340.6" y="251.33" font-size="10" text-anchor="end" fill="#231f20" textLength="12.7" lengthAdjust="spacingAndGlyphs">0.6</text>
<text x="340.6" y="222.79" font-size="10" text-anchor="end" fill="#231f20" textLength="12.7" lengthAdjust="spacingAndGlyphs">0.8</text>
<path fill="none" stroke="#231f20" stroke-width="1.1" stroke-linejoin="miter" d="M328.76,188.3L330.66,187.1V194.25"/>
<text x="340.6" y="194.25" font-size="10" text-anchor="end" fill="#231f20" textLength="7.56" lengthAdjust="spacingAndGlyphs">.0</text>
<path fill="none" stroke="#231f20" stroke-width="1.1" stroke-linejoin="miter" d="M356.2,363.55L358.1,362.35V369.5"/>
<text x="360.5" y="369.5" font-size="10" text-anchor="start" fill="#231f20" textLength="5.15" lengthAdjust="spacingAndGlyphs">0</text>
<path fill="none" stroke="#231f20" stroke-width="0.73" stroke-linejoin="miter" d="M366.31,361.37L367.57,360.58V365.3"/>
<path fill="none" stroke="#231f20" stroke-width="1.1" stroke-linejoin="miter" d="M399.6,363.55L401.5,362.35V369.5"/>
<text x="403.9" y="369.5" font-size="10" text-anchor="start" fill="#231f20" textLength="5.15" lengthAdjust="spacingAndGlyphs">0</text>
<text x="409.15" y="365.3" font-size="6.6" text-anchor="start" fill="#231f20" textLength="4.4" lengthAdjust="spacingAndGlyphs">2</text>
<path fill="none" stroke="#231f20" stroke-width="1.1" stroke-linejoin="miter" d="M443,363.55L444.9,362.35V369.5"/>
<text x="447.3" y="369.5" font-size="10" text-anchor="start" fill="#231f20" textLength="5.15" lengthAdjust="spacingAndGlyphs">0</text>
<text x="452.55" y="365.3" font-size="6.6" text-anchor="start" fill="#231f20" textLength="4.4" lengthAdjust="spacingAndGlyphs">3</text>
<path fill="none" stroke="#231f20" stroke-width="1.1" stroke-linejoin="miter" d="M486.4,363.55L488.3,362.35V369.5"/>
<text x="490.7" y="369.5" font-size="10" text-anchor="start" fill="#231f20" textLength="5.15" lengthAdjust="spacingAndGlyphs">0</text>
<text x="495.95" y="365.3" font-size="6.6" text-anchor="start" fill="#231f20" textLength="4.4" lengthAdjust="spacingAndGlyphs">4</text>
<text x="429.95" y="387.7" font-size="12.2" text-anchor="middle" fill="#231f20" textLength="68" lengthAdjust="spacingAndGlyphs">[c-MPL] (nM)</text>
<text transform="translate(318.6,267.55) rotate(-90)" font-size="12.2" text-anchor="middle" fill="#231f20" textLength="81.5" lengthAdjust="spacingAndGlyphs">Fraction bound</text>
<g stroke="#231f20" stroke-width="1.5" fill="none">
<path d="M65.1,480.5V633.65"/>
<path d="M64.35,632.9H222.7"/>
<path d="M61.1,626H65.1"/>
<path d="M61.1,600.64H65.1"/>
<path d="M61.1,575.28H65.1"/>
<path d="M61.1,549.92H65.1"/>
<path d="M61.1,524.56H65.1"/>
<path d="M61.1,499.2H65.1"/>
<path stroke-width="1.1" d="M65.4,632.9v4.2M76.94,632.9v2.4M83.7,632.9v2.4M88.49,632.9v2.4M92.21,632.9v2.4M95.24,632.9v2.4M97.81,632.9v2.4M100.03,632.9v2.4M102,632.9v2.4M103.75,632.9v4.2M115.29,632.9v2.4M122.05,632.9v2.4M126.84,632.9v2.4M130.56,632.9v2.4M133.59,632.9v2.4M136.16,632.9v2.4M138.38,632.9v2.4M140.35,632.9v2.4M142.1,632.9v4.2M153.64,632.9v2.4M160.4,632.9v2.4M165.19,632.9v2.4M168.91,632.9v2.4M171.94,632.9v2.4M174.51,632.9v2.4M176.73,632.9v2.4M178.7,632.9v2.4M180.45,632.9v4.2M191.99,632.9v2.4M198.75,632.9v2.4M203.54,632.9v2.4M207.26,632.9v2.4M210.29,632.9v2.4M212.86,632.9v2.4M215.08,632.9v2.4M217.05,632.9v2.4M218.8,632.9v4.2"/>
</g>
<text x="56.6" y="629.45" font-size="10" text-anchor="end" fill="#231f20" textLength="12.7" lengthAdjust="spacingAndGlyphs">0.0</text>
<text x="56.6" y="604.09" font-size="10" text-anchor="end" fill="#231f20" textLength="12.7" lengthAdjust="spacingAndGlyphs">0.2</text>
<text x="56.6" y="578.73" font-size="10" text-anchor="end" fill="#231f20" textLength="12.7" lengthAdjust="spacingAndGlyphs">0.4</text>
<text x="56.6" y="553.37" font-size="10" text-anchor="end" fill="#231f20" textLength="12.7" lengthAdjust="spacingAndGlyphs">0.6</text>
<text x="56.6" y="528.01" font-size="10" text-anchor="end" fill="#231f20" textLength="12.7" lengthAdjust="spacingAndGlyphs">0.8</text>
<path fill="none" stroke="#231f20" stroke-width="1.1" stroke-linejoin="miter" d="M44.76,496.7L46.66,495.5V502.65"/>
<text x="56.6" y="502.65" font-size="10" text-anchor="end" fill="#231f20" textLength="7.56" lengthAdjust="spacingAndGlyphs">.0</text>
<path fill="none" stroke="#231f20" stroke-width="1.1" stroke-linejoin="miter" d="M57.8,648.35L59.7,647.15V654.3"/>
<text x="62.1" y="654.3" font-size="10" text-anchor="start" fill="#231f20" textLength="5.15" lengthAdjust="spacingAndGlyphs">0</text>
<text x="67.35" y="650.1" font-size="6.6" text-anchor="start" fill="#231f20" textLength="6.4" lengthAdjust="spacingAndGlyphs">-2</text>
<path fill="none" stroke="#231f20" stroke-width="1.1" stroke-linejoin="miter" d="M96.15,648.35L98.05,647.15V654.3"/>
<text x="100.45" y="654.3" font-size="10" text-anchor="start" fill="#231f20" textLength="5.15" lengthAdjust="spacingAndGlyphs">0</text>
<text x="105.7" y="650.1" font-size="6.6" text-anchor="start" fill="#231f20" textLength="2.5" lengthAdjust="spacingAndGlyphs">-</text>
<path fill="none" stroke="#231f20" stroke-width="0.73" stroke-linejoin="miter" d="M109.16,646.17L110.41,645.38V650.1"/>
<path fill="none" stroke="#231f20" stroke-width="1.1" stroke-linejoin="miter" d="M135.5,648.35L137.4,647.15V654.3"/>
<text x="139.8" y="654.3" font-size="10" text-anchor="start" fill="#231f20" textLength="5.15" lengthAdjust="spacingAndGlyphs">0</text>
<text x="145.05" y="650.1" font-size="6.6" text-anchor="start" fill="#231f20" textLength="4.4" lengthAdjust="spacingAndGlyphs">0</text>
<path fill="none" stroke="#231f20" stroke-width="1.1" stroke-linejoin="miter" d="M173.85,648.35L175.75,647.15V654.3"/>
<text x="178.15" y="654.3" font-size="10" text-anchor="start" fill="#231f20" textLength="5.15" lengthAdjust="spacingAndGlyphs">0</text>
<path fill="none" stroke="#231f20" stroke-width="0.73" stroke-linejoin="miter" d="M183.96,646.17L185.22,645.38V650.1"/>
<path fill="none" stroke="#231f20" stroke-width="1.1" stroke-linejoin="miter" d="M212.2,648.35L214.1,647.15V654.3"/>
<text x="216.5" y="654.3" font-size="10" text-anchor="start" fill="#231f20" textLength="5.15" lengthAdjust="spacingAndGlyphs">0</text>
<text x="221.75" y="650.1" font-size="6.6" text-anchor="start" fill="#231f20" textLength="4.4" lengthAdjust="spacingAndGlyphs">2</text>
<text x="143.9" y="672.5" font-size="12.2" text-anchor="middle" fill="#231f20" textLength="68" lengthAdjust="spacingAndGlyphs">[c-MPL] (nM)</text>
<text transform="translate(34.8,556.7) rotate(-90)" font-size="12.2" text-anchor="middle" fill="#231f20" textLength="81.5" lengthAdjust="spacingAndGlyphs">Fraction bound</text>
<g stroke="#231f20" stroke-width="1.5" fill="none">
<path d="M349.1,475.4V633.65"/>
<path d="M348.35,632.9H508.8"/>
<path d="M345.1,618.5H349.1"/>
<path d="M345.1,590.7H349.1"/>
<path d="M345.1,562.9H349.1"/>
<path d="M345.1,535.1H349.1"/>
<path d="M345.1,507.3H349.1"/>
<path d="M345.1,479.5H349.1"/>
<path stroke-width="1.1" d="M349.89,632.9v2.4M353.28,632.9v2.4M356.15,632.9v2.4M358.64,632.9v2.4M360.84,632.9v2.4M362.8,632.9v4.2M375.71,632.9v2.4M383.27,632.9v2.4M388.63,632.9v2.4M392.79,632.9v2.4M396.18,632.9v2.4M399.05,632.9v2.4M401.54,632.9v2.4M403.74,632.9v2.4M405.7,632.9v4.2M418.61,632.9v2.4M426.17,632.9v2.4M431.53,632.9v2.4M435.69,632.9v2.4M439.08,632.9v2.4M441.95,632.9v2.4M444.44,632.9v2.4M446.64,632.9v2.4M448.6,632.9v4.2M461.51,632.9v2.4M469.07,632.9v2.4M474.43,632.9v2.4M478.59,632.9v2.4M481.98,632.9v2.4M484.85,632.9v2.4M487.34,632.9v2.4M489.54,632.9v2.4M491.5,632.9v4.2M504.41,632.9v2.4"/>
</g>
<text x="340.6" y="621.95" font-size="10" text-anchor="end" fill="#231f20" textLength="12.7" lengthAdjust="spacingAndGlyphs">0.0</text>
<text x="340.6" y="594.15" font-size="10" text-anchor="end" fill="#231f20" textLength="12.7" lengthAdjust="spacingAndGlyphs">0.2</text>
<text x="340.6" y="566.35" font-size="10" text-anchor="end" fill="#231f20" textLength="12.7" lengthAdjust="spacingAndGlyphs">0.4</text>
<text x="340.6" y="538.55" font-size="10" text-anchor="end" fill="#231f20" textLength="12.7" lengthAdjust="spacingAndGlyphs">0.6</text>
<text x="340.6" y="510.75" font-size="10" text-anchor="end" fill="#231f20" textLength="12.7" lengthAdjust="spacingAndGlyphs">0.8</text>
<path fill="none" stroke="#231f20" stroke-width="1.1" stroke-linejoin="miter" d="M328.76,477L330.66,475.8V482.95"/>
<text x="340.6" y="482.95" font-size="10" text-anchor="end" fill="#231f20" textLength="7.56" lengthAdjust="spacingAndGlyphs">.0</text>
<path fill="none" stroke="#231f20" stroke-width="1.1" stroke-linejoin="miter" d="M356.2,648.35L358.1,647.15V654.3"/>
<text x="360.5" y="654.3" font-size="10" text-anchor="start" fill="#231f20" textLength="5.15" lengthAdjust="spacingAndGlyphs">0</text>
<path fill="none" stroke="#231f20" stroke-width="0.73" stroke-linejoin="miter" d="M366.31,646.17L367.57,645.38V650.1"/>
<path fill="none" stroke="#231f20" stroke-width="1.1" stroke-linejoin="miter" d="M399.1,648.35L401,647.15V654.3"/>
<text x="403.4" y="654.3" font-size="10" text-anchor="start" fill="#231f20" textLength="5.15" lengthAdjust="spacingAndGlyphs">0</text>
<text x="408.65" y="650.1" font-size="6.6" text-anchor="start" fill="#231f20" textLength="4.4" lengthAdjust="spacingAndGlyphs">2</text>
<path fill="none" stroke="#231f20" stroke-width="1.1" stroke-linejoin="miter" d="M442,648.35L443.9,647.15V654.3"/>
<text x="446.3" y="654.3" font-size="10" text-anchor="start" fill="#231f20" textLength="5.15" lengthAdjust="spacingAndGlyphs">0</text>
<text x="451.55" y="650.1" font-size="6.6" text-anchor="start" fill="#231f20" textLength="4.4" lengthAdjust="spacingAndGlyphs">3</text>
<path fill="none" stroke="#231f20" stroke-width="1.1" stroke-linejoin="miter" d="M484.9,648.35L486.8,647.15V654.3"/>
<text x="489.2" y="654.3" font-size="10" text-anchor="start" fill="#231f20" textLength="5.15" lengthAdjust="spacingAndGlyphs">0</text>
<text x="494.45" y="650.1" font-size="6.6" text-anchor="start" fill="#231f20" textLength="4.4" lengthAdjust="spacingAndGlyphs">4</text>
<text x="428.95" y="672.5" font-size="12.2" text-anchor="middle" fill="#231f20" textLength="68" lengthAdjust="spacingAndGlyphs">[c-MPL] (nM)</text>
<text transform="translate(318.6,554.15) rotate(-90)" font-size="12.2" text-anchor="middle" fill="#231f20" textLength="81.5" lengthAdjust="spacingAndGlyphs">Fraction bound</text>
<g stroke="#231f20" stroke-width="1.5" fill="none">
<path d="M65.1,745.4V904.95"/>
<path d="M64.35,904.2H222.7"/>
<path d="M61.1,890.3H65.1"/>
<path d="M61.1,862.18H65.1"/>
<path d="M61.1,834.06H65.1"/>
<path d="M61.1,805.94H65.1"/>
<path d="M61.1,777.82H65.1"/>
<path d="M61.1,749.7H65.1"/>
<path stroke-width="1.1" d="M65,904.2v4.2M76.71,904.2v2.4M83.56,904.2v2.4M88.42,904.2v2.4M92.19,904.2v2.4M95.27,904.2v2.4M97.87,904.2v2.4M100.13,904.2v2.4M102.12,904.2v2.4M103.9,904.2v4.2M115.61,904.2v2.4M122.46,904.2v2.4M127.32,904.2v2.4M131.09,904.2v2.4M134.17,904.2v2.4M136.77,904.2v2.4M139.03,904.2v2.4M141.02,904.2v2.4M142.8,904.2v4.2M154.51,904.2v2.4M161.36,904.2v2.4M166.22,904.2v2.4M169.99,904.2v2.4M173.07,904.2v2.4M175.67,904.2v2.4M177.93,904.2v2.4M179.92,904.2v2.4M181.7,904.2v4.2M193.41,904.2v2.4M200.26,904.2v2.4M205.12,904.2v2.4M208.89,904.2v2.4M211.97,904.2v2.4M214.57,904.2v2.4M216.83,904.2v2.4M218.82,904.2v2.4M220.6,904.2v4.2"/>
</g>
<text x="56.6" y="893.75" font-size="10" text-anchor="end" fill="#231f20" textLength="12.7" lengthAdjust="spacingAndGlyphs">0.0</text>
<text x="56.6" y="865.63" font-size="10" text-anchor="end" fill="#231f20" textLength="12.7" lengthAdjust="spacingAndGlyphs">0.2</text>
<text x="56.6" y="837.51" font-size="10" text-anchor="end" fill="#231f20" textLength="12.7" lengthAdjust="spacingAndGlyphs">0.4</text>
<text x="56.6" y="809.39" font-size="10" text-anchor="end" fill="#231f20" textLength="12.7" lengthAdjust="spacingAndGlyphs">0.6</text>
<text x="56.6" y="781.27" font-size="10" text-anchor="end" fill="#231f20" textLength="12.7" lengthAdjust="spacingAndGlyphs">0.8</text>
<path fill="none" stroke="#231f20" stroke-width="1.1" stroke-linejoin="miter" d="M44.76,747.2L46.66,746V753.15"/>
<text x="56.6" y="753.15" font-size="10" text-anchor="end" fill="#231f20" textLength="7.56" lengthAdjust="spacingAndGlyphs">.0</text>
<path fill="none" stroke="#231f20" stroke-width="1.1" stroke-linejoin="miter" d="M57.4,919.65L59.3,918.45V925.6"/>
<text x="61.7" y="925.6" font-size="10" text-anchor="start" fill="#231f20" textLength="5.15" lengthAdjust="spacingAndGlyphs">0</text>
<text x="66.95" y="921.4" font-size="6.6" text-anchor="start" fill="#231f20" textLength="6.4" lengthAdjust="spacingAndGlyphs">-2</text>
<path fill="none" stroke="#231f20" stroke-width="1.1" stroke-linejoin="miter" d="M96.3,919.65L98.2,918.45V925.6"/>
<text x="100.6" y="925.6" font-size="10" text-anchor="start" fill="#231f20" textLength="5.15" lengthAdjust="spacingAndGlyphs">0</text>
<text x="105.85" y="921.4" font-size="6.6" text-anchor="start" fill="#231f20" textLength="2.5" lengthAdjust="spacingAndGlyphs">-</text>
<path fill="none" stroke="#231f20" stroke-width="0.73" stroke-linejoin="miter" d="M109.31,917.47L110.56,916.68V921.4"/>
<path fill="none" stroke="#231f20" stroke-width="1.1" stroke-linejoin="miter" d="M136.2,919.65L138.1,918.45V925.6"/>
<text x="140.5" y="925.6" font-size="10" text-anchor="start" fill="#231f20" textLength="5.15" lengthAdjust="spacingAndGlyphs">0</text>
<text x="145.75" y="921.4" font-size="6.6" text-anchor="start" fill="#231f20" textLength="4.4" lengthAdjust="spacingAndGlyphs">0</text>
<path fill="none" stroke="#231f20" stroke-width="1.1" stroke-linejoin="miter" d="M175.1,919.65L177,918.45V925.6"/>
<text x="179.4" y="925.6" font-size="10" text-anchor="start" fill="#231f20" textLength="5.15" lengthAdjust="spacingAndGlyphs">0</text>
<path fill="none" stroke="#231f20" stroke-width="0.73" stroke-linejoin="miter" d="M185.21,917.47L186.47,916.68V921.4"/>
<path fill="none" stroke="#231f20" stroke-width="1.1" stroke-linejoin="miter" d="M214,919.65L215.9,918.45V925.6"/>
<text x="218.3" y="925.6" font-size="10" text-anchor="start" fill="#231f20" textLength="5.15" lengthAdjust="spacingAndGlyphs">0</text>
<text x="223.55" y="921.4" font-size="6.6" text-anchor="start" fill="#231f20" textLength="4.4" lengthAdjust="spacingAndGlyphs">2</text>
<text x="143.9" y="943.8" font-size="12.2" text-anchor="middle" fill="#231f20" textLength="68" lengthAdjust="spacingAndGlyphs">[c-MPL] (nM)</text>
<text transform="translate(34.8,824.8) rotate(-90)" font-size="12.2" text-anchor="middle" fill="#231f20" textLength="81.5" lengthAdjust="spacingAndGlyphs">Fraction bound</text>
<g stroke="#231f20" stroke-width="1.5" fill="none">
<path d="M349.1,745.4V904.95"/>
<path d="M348.35,904.2H506.5"/>
<path d="M345.1,890.3H349.1"/>
<path d="M345.1,862.18H349.1"/>
<path d="M345.1,834.06H349.1"/>
<path d="M345.1,805.94H349.1"/>
<path d="M345.1,777.82H349.1"/>
<path d="M345.1,749.7H349.1"/>
<path stroke-width="1.1" d="M349.2,904.2v4.2M363.25,904.2v2.4M371.47,904.2v2.4M377.3,904.2v2.4M381.82,904.2v2.4M385.52,904.2v2.4M388.64,904.2v2.4M391.35,904.2v2.4M393.73,904.2v2.4M395.87,904.2v4.2M409.92,904.2v2.4M418.14,904.2v2.4M423.97,904.2v2.4M428.49,904.2v2.4M432.19,904.2v2.4M435.31,904.2v2.4M438.02,904.2v2.4M440.4,904.2v2.4M442.54,904.2v4.2M456.59,904.2v2.4M464.81,904.2v2.4M470.64,904.2v2.4M475.16,904.2v2.4M478.86,904.2v2.4M481.98,904.2v2.4M484.69,904.2v2.4M487.07,904.2v2.4M489.21,904.2v4.2M503.26,904.2v2.4"/>
</g>
<text x="340.6" y="893.75" font-size="10" text-anchor="end" fill="#231f20" textLength="12.7" lengthAdjust="spacingAndGlyphs">0.0</text>
<text x="340.6" y="865.63" font-size="10" text-anchor="end" fill="#231f20" textLength="12.7" lengthAdjust="spacingAndGlyphs">0.2</text>
<text x="340.6" y="837.51" font-size="10" text-anchor="end" fill="#231f20" textLength="12.7" lengthAdjust="spacingAndGlyphs">0.4</text>
<text x="340.6" y="809.39" font-size="10" text-anchor="end" fill="#231f20" textLength="12.7" lengthAdjust="spacingAndGlyphs">0.6</text>
<text x="340.6" y="781.27" font-size="10" text-anchor="end" fill="#231f20" textLength="12.7" lengthAdjust="spacingAndGlyphs">0.8</text>
<path fill="none" stroke="#231f20" stroke-width="1.1" stroke-linejoin="miter" d="M328.76,747.2L330.66,746V753.15"/>
<text x="340.6" y="753.15" font-size="10" text-anchor="end" fill="#231f20" textLength="7.56" lengthAdjust="spacingAndGlyphs">.0</text>
<path fill="none" stroke="#231f20" stroke-width="1.1" stroke-linejoin="miter" d="M342.6,919.65L344.5,918.45V925.6"/>
<text x="346.9" y="925.6" font-size="10" text-anchor="start" fill="#231f20" textLength="5.15" lengthAdjust="spacingAndGlyphs">0</text>
<path fill="none" stroke="#231f20" stroke-width="0.73" stroke-linejoin="miter" d="M352.71,917.47L353.97,916.68V921.4"/>
<path fill="none" stroke="#231f20" stroke-width="1.1" stroke-linejoin="miter" d="M389.27,919.65L391.17,918.45V925.6"/>
<text x="393.57" y="925.6" font-size="10" text-anchor="start" fill="#231f20" textLength="5.15" lengthAdjust="spacingAndGlyphs">0</text>
<text x="398.82" y="921.4" font-size="6.6" text-anchor="start" fill="#231f20" textLength="4.4" lengthAdjust="spacingAndGlyphs">2</text>
<path fill="none" stroke="#231f20" stroke-width="1.1" stroke-linejoin="miter" d="M435.94,919.65L437.84,918.45V925.6"/>
<text x="440.24" y="925.6" font-size="10" text-anchor="start" fill="#231f20" textLength="5.15" lengthAdjust="spacingAndGlyphs">0</text>
<text x="445.49" y="921.4" font-size="6.6" text-anchor="start" fill="#231f20" textLength="4.4" lengthAdjust="spacingAndGlyphs">3</text>
<path fill="none" stroke="#231f20" stroke-width="1.1" stroke-linejoin="miter" d="M482.61,919.65L484.51,918.45V925.6"/>
<text x="486.91" y="925.6" font-size="10" text-anchor="start" fill="#231f20" textLength="5.15" lengthAdjust="spacingAndGlyphs">0</text>
<text x="492.16" y="921.4" font-size="6.6" text-anchor="start" fill="#231f20" textLength="4.4" lengthAdjust="spacingAndGlyphs">4</text>
<text x="427.8" y="943.8" font-size="12.2" text-anchor="middle" fill="#231f20" textLength="68" lengthAdjust="spacingAndGlyphs">[c-MPL] (nM)</text>
<text transform="translate(318.6,824.8) rotate(-90)" font-size="12.2" text-anchor="middle" fill="#231f20" textLength="81.5" lengthAdjust="spacingAndGlyphs">Fraction bound</text>
<path fill="none" stroke="#222" stroke-width="1.05" d="M88.1,318.4V327.2M88.1,333V341.8M85.4,318.4H90.8M85.4,341.8H90.8"/>
<path fill="none" stroke="#222" stroke-width="1.05" d="M97.8,297V305.2M97.8,311V319.1M95.1,297H100.5M95.1,319.1H100.5"/>
<path fill="none" stroke="#222" stroke-width="1.05" d="M108.8,257.7V277.1M108.8,282.9V301.2M106.1,257.7H111.5M106.1,301.2H111.5"/>
<path fill="none" stroke="#222" stroke-width="1.05" d="M120.5,216.4V224.7M120.5,230.5V238.5M117.8,216.4H123.2M117.8,238.5H123.2"/>
<path fill="none" stroke="#222" stroke-width="1.05" d="M131.9,220V243.6M131.9,249.4V272.3M129.2,220H134.6M129.2,272.3H134.6"/>
<path fill="none" stroke="#222" stroke-width="1.05" d="M143.8,222V233.8M143.8,239.6V250.6M141.1,222H146.5M141.1,250.6H146.5"/>
<path fill="none" stroke="#222" stroke-width="1.05" d="M155,200.6V205.4M155,211.2V216M152.3,200.6H157.7M152.3,216H157.7"/>
<path fill="none" stroke="#222" stroke-width="1.05" d="M166.9,219.8V224M166.9,229.8V234.2M164.2,219.8H169.6M164.2,234.2H169.6"/>
<path fill="none" stroke="#222" stroke-width="1.05" d="M178.5,214V216.9M178.5,222.7V225.6M175.8,214H181.2M175.8,225.6H181.2"/>
<path fill="none" stroke="#222" stroke-width="1.05" d="M88.1,264.4V286.6M88.1,292.4V313.7M85.4,264.4H90.8M85.4,313.7H90.8"/>
<path fill="none" stroke="#222" stroke-width="1.05" d="M97.8,259.4V266.5M97.8,272.3V277M95.1,259.4H100.5M95.1,277H100.5"/>
<path fill="none" stroke="#222" stroke-width="1.05" d="M108.8,224.3V243.6M108.8,249.4V267.3M106.1,224.3H111.5M106.1,267.3H111.5"/>
<path fill="none" stroke="#222" stroke-width="1.05" d="M120.5,236.7V239.8M117.8,231.8H123.2M117.8,239.8H123.2"/>
<path fill="none" stroke="#222" stroke-width="1.05" d="M131.9,220.1V226.4M131.9,232.2V238.5M129.2,220.1H134.6M129.2,238.5H134.6"/>
<path fill="none" stroke="#222" stroke-width="1.05" d="M143.8,201.5V209.8M143.8,215.6V222M141.1,201.5H146.5M141.1,222H146.5"/>
<polyline fill="none" stroke="#b3261e" stroke-width="1.6" stroke-linecap="round" stroke-linejoin="round" points="76.7,305.68 78.26,303.2 79.82,300.64 81.38,297.99 82.94,295.26 84.5,292.46 86.06,289.6 87.62,286.69 89.18,283.74 90.74,280.76 92.3,277.78 93.86,274.79 95.42,271.82 96.98,268.87 98.54,265.96 100.1,263.11 101.66,260.31 103.22,257.59 104.78,254.94 106.34,252.38 107.9,249.92 109.46,247.55 111.02,245.29 112.58,243.14 114.14,241.09 115.7,239.15 117.26,237.31 118.82,235.58 120.38,233.96 121.94,232.44 123.5,231.01 125.06,229.68 126.62,228.44 128.18,227.29 129.74,226.22 131.3,225.23 132.86,224.31 134.42,223.46 135.98,222.68 137.54,221.96 139.1,221.29 140.66,220.68 142.22,220.11 143.78,219.6 145.34,219.12 146.9,218.69 148.46,218.29 150.02,217.92 151.58,217.59 153.14,217.28 154.7,217 156.26,216.74 157.82,216.51 159.38,216.29 160.94,216.1 162.5,215.92 164.06,215.75 165.62,215.6 167.18,215.47 168.74,215.34 170.3,215.23 171.86,215.13 173.42,215.03 174.98,214.95 176.54,214.87 178.1,214.8 179.66,214.73 181.22,214.67 182.78,214.62 184.34,214.57 185.9,214.52 187.46,214.48 189.02,214.45 190.58,214.41 192.14,214.38 193.7,214.35 195.26,214.33 196.82,214.3 198.38,214.28 199.94,214.26 201.5,214.25"/>
<polyline fill="none" stroke="#000" stroke-width="1.6" stroke-linecap="round" stroke-linejoin="round" points="76.7,326.77 78.26,325.49 79.82,324.12 81.38,322.65 82.94,321.08 84.5,319.41 86.06,317.64 87.62,315.76 89.18,313.77 90.74,311.68 92.3,309.48 93.86,307.17 95.42,304.77 96.98,302.27 98.54,299.68 100.1,297.01 101.66,294.26 103.22,291.44 104.78,288.57 106.34,285.66 107.9,282.71 109.46,279.74 111.02,276.77 112.58,273.8 114.14,270.85 115.7,267.94 117.26,265.07 118.82,262.25 120.38,259.5 121.94,256.82 123.5,254.23 125.06,251.72 126.62,249.31 128.18,247.01 129.74,244.8 131.3,242.7 132.86,240.71 134.42,238.83 135.98,237.05 137.54,235.38 139.1,233.81 140.66,232.34 142.22,230.96 143.78,229.68 145.34,228.49 146.9,227.38 148.46,226.35 150.02,225.39 151.58,224.51 153.14,223.7 154.7,222.94 156.26,222.25 157.82,221.61 159.38,221.02 160.94,220.48 162.5,219.99 164.06,219.53 165.62,219.12 167.18,218.73 168.74,218.38 170.3,218.06 171.86,217.77 173.42,217.5 174.98,217.26 176.54,217.03 178.1,216.83 179.66,216.64 181.22,216.47 182.78,216.31 184.34,216.17 185.9,216.04 187.46,215.92 189.02,215.81 190.58,215.71 192.14,215.62 193.7,215.54 195.26,215.47 196.82,215.4 198.38,215.34 199.94,215.28 201.5,215.23"/>
<circle cx="88.1" cy="330.1" r="2.7" fill="#000"/>
<circle cx="97.8" cy="308.1" r="2.7" fill="#000"/>
<circle cx="108.8" cy="280" r="2.7" fill="#000"/>
<circle cx="120.5" cy="227.6" r="2.7" fill="#000"/>
<circle cx="131.9" cy="246.5" r="2.7" fill="#000"/>
<circle cx="143.8" cy="236.7" r="2.7" fill="#000"/>
<circle cx="155" cy="208.3" r="2.7" fill="#000"/>
<circle cx="166.9" cy="226.9" r="2.7" fill="#000"/>
<circle cx="178.5" cy="219.8" r="2.7" fill="#000"/>
<circle cx="190" cy="210.2" r="2.7" fill="#000"/>
<circle cx="201.5" cy="216.5" r="2.7" fill="#000"/>
<path fill="#000" d="M76.7,294.2L79.6,300L73.8,300Z"/>
<path fill="#000" d="M88.1,286.3L91,292.1L85.2,292.1Z"/>
<path fill="#000" d="M97.8,266.2L100.7,272L94.9,272Z"/>
<path fill="#000" d="M108.8,243.3L111.7,249.1L105.9,249.1Z"/>
<path fill="#000" d="M120.5,230.6L123.4,236.4L117.6,236.4Z"/>
<path fill="#000" d="M131.9,226.1L134.8,231.9L129,231.9Z"/>
<path fill="#000" d="M143.8,209.5L146.7,215.3L140.9,215.3Z"/>
<path fill="#000" d="M155,210.8L157.9,216.6L152.1,216.6Z"/>
<path fill="#000" d="M166.9,204.1L169.8,209.9L164,209.9Z"/>
<path fill="#000" d="M178.5,217.6L181.4,223.4L175.6,223.4Z"/>
<path fill="#000" d="M190,215.6L192.9,221.4L187.1,221.4Z"/>
<path fill="#000" d="M201.5,219.1L204.4,224.9L198.6,224.9Z"/>
<path stroke="#000" stroke-width="1.5" d="M121.9,318.3H138.7"/>
<circle cx="130.3" cy="318.3" r="2.7" fill="#000"/>
<text x="148.4" y="321.8" font-size="10" text-anchor="start" fill="#231f20" textLength="53.1" lengthAdjust="spacingAndGlyphs">TPO + c-MPL</text>
<path stroke="#b3261e" stroke-width="2.1" d="M121.9,334.9H138.7"/>
<path fill="#000" d="M130.3,331.7L133.2,337.5L127.4,337.5Z"/>
<text x="148.4" y="338.4" font-size="10" text-anchor="start" fill="#231f20" textLength="49.6" lengthAdjust="spacingAndGlyphs">+ 1 μM IFNγ</text>
<path fill="none" stroke="#222" stroke-width="1.05" d="M372.9,323.5V327.3M372.9,333.1V338.8M370.2,323.5H375.6M370.2,338.8H375.6"/>
<path fill="none" stroke="#222" stroke-width="1.05" d="M383.1,308.5H388.5M383.1,313.5H388.5"/>
<path fill="none" stroke="#222" stroke-width="1.05" d="M425.8,305.5V306.7M425.8,312.5V313M423.1,305.5H428.5M423.1,313H428.5"/>
<path fill="none" stroke="#222" stroke-width="1.05" d="M436.1,281H441.5M436.1,286H441.5"/>
<path fill="none" stroke="#222" stroke-width="1.05" d="M452.1,246.9V248.4M452.1,254.2V255.8M449.4,246.9H454.8M449.4,255.8H454.8"/>
<path fill="none" stroke="#222" stroke-width="1.05" d="M476,210H481.4M476,214.5H481.4"/>
<path fill="none" stroke="#222" stroke-width="1.05" d="M491.5,195V198.4M491.5,204.2V207.1M488.8,195H494.2M488.8,207.1H494.2"/>
<path fill="none" stroke="#222" stroke-width="1.05" d="M385.8,316.5V317.7M385.8,323.5V324.5M383.1,316.5H388.5M383.1,324.5H388.5"/>
<path fill="none" stroke="#222" stroke-width="1.05" d="M399.2,315.5V315.8M399.2,321.6V322M396.5,315.5H401.9M396.5,322H401.9"/>
<path fill="none" stroke="#222" stroke-width="1.05" d="M412.3,318V318.6M412.3,324.4V325M409.6,318H415M409.6,325H415"/>
<path fill="none" stroke="#222" stroke-width="1.05" d="M452.1,288.5V290.8M452.1,296.6V298.8M449.4,288.5H454.8M449.4,298.8H454.8"/>
<path fill="none" stroke="#222" stroke-width="1.05" d="M465.2,258.5V263.8M465.2,269.6V274.4M462.5,258.5H467.9M462.5,274.4H467.9"/>
<path fill="none" stroke="#222" stroke-width="1.05" d="M478.7,232.7V236.9M478.7,242.7V246.5M476,232.7H481.4M476,246.5H481.4"/>
<path fill="none" stroke="#222" stroke-width="1.05" d="M491.5,217.3V228.3M491.5,234.1V245.6M488.8,217.3H494.2M488.8,245.6H494.2"/>
<path fill="none" stroke="#222" stroke-width="1.05" d="M449.4,325H454.8M449.4,330H454.8"/>
<path fill="none" stroke="#222" stroke-width="1.05" d="M462.5,319.5H467.9M462.5,324.3H467.9"/>
<path fill="none" stroke="#222" stroke-width="1.05" d="M476,302H481.4M476,306.4H481.4"/>
<path fill="none" stroke="#222" stroke-width="1.05" d="M488.8,286.5H494.2M488.8,291H494.2"/>
<path fill="none" stroke="#222" stroke-width="1.05" d="M412.3,330.5V330.8M412.3,336.6V338.5M409.6,330.5H415M409.6,338.5H415"/>
<polyline fill="none" stroke="#a21e1b" stroke-width="2" stroke-linecap="round" stroke-linejoin="round" points="349.5,333.5 351.27,333.5 353.05,333.5 354.82,333.5 356.6,333.5 358.38,333.5 360.15,333.5 361.93,333.5 363.7,333.5 365.48,333.5 367.25,333.5 369.02,333.5 370.8,333.49 372.57,333.49 374.35,333.49 376.12,333.49 377.9,333.49 379.68,333.49 381.45,333.49 383.23,333.49 385,333.49 386.77,333.49 388.55,333.49 390.32,333.48 392.1,333.48 393.88,333.48 395.65,333.48 397.43,333.48 399.2,333.48 400.98,333.47 402.75,333.47 404.52,333.47 406.3,333.46 408.07,333.46 409.85,333.46 411.62,333.45 413.4,333.45 415.18,333.44 416.95,333.44 418.73,333.43 420.5,333.42 422.27,333.42 424.05,333.41 425.82,333.4 427.6,333.39 429.38,333.38 431.15,333.37 432.93,333.35 434.7,333.34 436.48,333.32 438.25,333.3 440.02,333.28 441.8,333.26 443.57,333.24 445.35,333.21 447.12,333.19 448.9,333.16 450.68,333.12 452.45,333.08 454.23,333.04 456,333 457.77,332.95 459.55,332.89 461.32,332.84 463.1,332.77 464.88,332.7 466.65,332.62 468.43,332.53 470.2,332.44 471.98,332.33 473.75,332.22 475.52,332.1 477.3,331.96 479.07,331.81 480.85,331.64 482.62,331.46 484.4,331.26 486.18,331.05 487.95,330.81 489.73,330.55 491.5,330.26"/>
<polyline fill="none" stroke="#cd6f55" stroke-width="1.6" stroke-linecap="round" stroke-linejoin="round" points="349.5,333.5 351.27,333.5 353.05,333.5 354.82,333.5 356.6,333.49 358.38,333.49 360.15,333.49 361.93,333.49 363.7,333.49 365.48,333.49 367.25,333.49 369.02,333.49 370.8,333.48 372.57,333.48 374.35,333.48 376.12,333.48 377.9,333.47 379.68,333.47 381.45,333.46 383.23,333.46 385,333.45 386.77,333.45 388.55,333.44 390.32,333.43 392.1,333.42 393.88,333.41 395.65,333.4 397.43,333.39 399.2,333.37 400.98,333.35 402.75,333.33 404.52,333.31 406.3,333.28 408.07,333.25 409.85,333.21 411.62,333.17 413.4,333.13 415.18,333.07 416.95,333.01 418.73,332.95 420.5,332.87 422.27,332.78 424.05,332.68 425.82,332.57 427.6,332.44 429.38,332.29 431.15,332.12 432.93,331.93 434.7,331.72 436.48,331.48 438.25,331.2 440.02,330.89 441.8,330.54 443.57,330.14 445.35,329.69 447.12,329.19 448.9,328.62 450.68,327.99 452.45,327.29 454.23,326.5 456,325.63 457.77,324.66 459.55,323.6 461.32,322.43 463.1,321.15 464.88,319.76 466.65,318.25 468.43,316.64 470.2,314.91 471.98,313.07 473.75,311.13 475.52,309.1 477.3,307 479.07,304.83 480.85,302.62 482.62,300.37 484.4,298.12 486.18,295.88 487.95,293.67 489.73,291.5 491.5,289.4"/>
<polyline fill="none" stroke="#d98b6e" stroke-width="1.6" stroke-linecap="round" stroke-linejoin="round" points="349.5,333.28 351.27,333.26 353.05,333.23 354.82,333.2 356.6,333.17 358.38,333.14 360.15,333.1 361.93,333.06 363.7,333.01 365.48,332.96 367.25,332.91 369.02,332.85 370.8,332.78 372.57,332.71 374.35,332.62 376.12,332.53 377.9,332.43 379.68,332.32 381.45,332.2 383.23,332.07 385,331.92 386.77,331.76 388.55,331.58 390.32,331.39 392.1,331.17 393.88,330.93 395.65,330.67 397.43,330.39 399.2,330.07 400.98,329.73 402.75,329.35 404.52,328.93 406.3,328.47 408.07,327.98 409.85,327.43 411.62,326.83 413.4,326.18 415.18,325.46 416.95,324.69 418.73,323.84 420.5,322.92 422.27,321.92 424.05,320.84 425.82,319.67 427.6,318.4 429.38,317.04 431.15,315.57 432.93,313.99 434.7,312.3 436.48,310.5 438.25,308.58 440.02,306.54 441.8,304.39 443.57,302.11 445.35,299.72 447.12,297.21 448.9,294.6 450.68,291.89 452.45,289.08 454.23,286.19 456,283.22 457.77,280.2 459.55,277.13 461.32,274.02 463.1,270.9 464.88,267.77 466.65,264.65 468.43,261.56 470.2,258.52 471.98,255.52 473.75,252.6 475.52,249.75 477.3,247 479.07,244.34 480.85,241.79 482.62,239.35 484.4,237.02 486.18,234.81 487.95,232.72 489.73,230.75 491.5,228.9"/>
<polyline fill="none" stroke="#000" stroke-width="1.7" stroke-linecap="round" stroke-linejoin="round" points="349.5,332.89 351.27,332.83 353.05,332.76 354.82,332.68 356.6,332.6 358.38,332.51 360.15,332.41 361.93,332.3 363.7,332.18 365.48,332.05 367.25,331.9 369.02,331.74 370.8,331.56 372.57,331.37 374.35,331.16 376.12,330.92 377.9,330.66 379.68,330.38 381.45,330.07 383.23,329.73 385,329.36 386.77,328.95 388.55,328.5 390.32,328.01 392.1,327.47 393.88,326.89 395.65,326.25 397.43,325.55 399.2,324.79 400.98,323.96 402.75,323.06 404.52,322.08 406.3,321.01 408.07,319.86 409.85,318.61 411.62,317.27 413.4,315.81 415.18,314.25 416.95,312.57 418.73,310.77 420.5,308.85 422.27,306.8 424.05,304.62 425.82,302.31 427.6,299.87 429.38,297.29 431.15,294.59 432.93,291.76 434.7,288.82 436.48,285.76 438.25,282.6 440.02,279.34 441.8,276 443.57,272.6 445.35,269.14 447.12,265.64 448.9,262.11 450.68,258.59 452.45,255.07 454.23,251.57 456,248.12 457.77,244.73 459.55,241.41 461.32,238.17 463.1,235.03 464.88,232 466.65,229.08 468.43,226.28 470.2,223.6 471.98,221.05 473.75,218.64 475.52,216.35 477.3,214.2 479.07,212.18 480.85,210.28 482.62,208.51 484.4,206.86 486.18,205.32 487.95,203.89 489.73,202.56 491.5,201.33"/>
<path fill="#000" d="M359.4,330.8L362.3,336.6L356.5,336.6Z"/>
<path fill="#000" d="M372.9,329.9L375.8,335.7L370,335.7Z"/>
<path fill="#000" d="M385.8,330.8L388.7,336.6L382.9,336.6Z"/>
<path fill="#000" d="M399.2,331.4L402.1,337.2L396.3,337.2Z"/>
<path fill="#000" d="M412.3,330.5L415.2,336.3L409.4,336.3Z"/>
<path fill="#000" d="M425.8,330.3L428.7,336.1L422.9,336.1Z"/>
<path fill="#000" d="M438.8,330.8L441.7,336.6L435.9,336.6Z"/>
<path fill="#000" d="M452.1,330.8L455,336.6L449.2,336.6Z"/>
<path fill="#000" d="M465.2,329.9L468.1,335.7L462.3,335.7Z"/>
<path fill="#000" d="M478.7,329.3L481.6,335.1L475.8,335.1Z"/>
<path fill="#000" d="M491.5,327.4L494.4,333.2L488.6,333.2Z"/>
<circle cx="385.8" cy="331.5" r="2.35" fill="none" stroke="#000" stroke-width="1.25"/>
<circle cx="399.2" cy="328.8" r="2.35" fill="none" stroke="#000" stroke-width="1.25"/>
<circle cx="412.3" cy="333" r="2.35" fill="none" stroke="#000" stroke-width="1.25"/>
<circle cx="425.8" cy="333.7" r="2.35" fill="none" stroke="#000" stroke-width="1.25"/>
<circle cx="438.8" cy="330.6" r="2.35" fill="none" stroke="#000" stroke-width="1.25"/>
<circle cx="452.1" cy="327.3" r="2.35" fill="none" stroke="#000" stroke-width="1.25"/>
<circle cx="465.2" cy="321.9" r="2.35" fill="none" stroke="#000" stroke-width="1.25"/>
<circle cx="478.7" cy="304.2" r="2.35" fill="none" stroke="#000" stroke-width="1.25"/>
<circle cx="491.5" cy="288.8" r="2.35" fill="none" stroke="#000" stroke-width="1.25"/>
<rect x="357.05" y="321.45" width="4.7" height="4.7" fill="none" stroke="#000" stroke-width="1.2"/>
<rect x="370.55" y="324.15" width="4.7" height="4.7" fill="none" stroke="#000" stroke-width="1.2"/>
<rect x="383.45" y="318.25" width="4.7" height="4.7" fill="none" stroke="#000" stroke-width="1.2"/>
<rect x="396.85" y="316.35" width="4.7" height="4.7" fill="none" stroke="#000" stroke-width="1.2"/>
<rect x="409.95" y="319.15" width="4.7" height="4.7" fill="none" stroke="#000" stroke-width="1.2"/>
<rect x="423.45" y="317.65" width="4.7" height="4.7" fill="none" stroke="#000" stroke-width="1.2"/>
<rect x="436.45" y="313.45" width="4.7" height="4.7" fill="none" stroke="#000" stroke-width="1.2"/>
<rect x="449.75" y="291.35" width="4.7" height="4.7" fill="none" stroke="#000" stroke-width="1.2"/>
<rect x="462.85" y="264.35" width="4.7" height="4.7" fill="none" stroke="#000" stroke-width="1.2"/>
<rect x="476.35" y="237.45" width="4.7" height="4.7" fill="none" stroke="#000" stroke-width="1.2"/>
<rect x="489.15" y="228.85" width="4.7" height="4.7" fill="none" stroke="#000" stroke-width="1.2"/>
<circle cx="359.4" cy="333.1" r="2.7" fill="#000"/>
<circle cx="372.9" cy="330.2" r="2.7" fill="#000"/>
<circle cx="385.8" cy="311" r="2.7" fill="#000"/>
<circle cx="399.2" cy="313.5" r="2.7" fill="#000"/>
<circle cx="412.3" cy="312.9" r="2.7" fill="#000"/>
<circle cx="425.8" cy="309.6" r="2.7" fill="#000"/>
<circle cx="438.8" cy="283.5" r="2.7" fill="#000"/>
<circle cx="452.1" cy="251.3" r="2.7" fill="#000"/>
<circle cx="465.2" cy="234" r="2.7" fill="#000"/>
<circle cx="478.7" cy="212.3" r="2.7" fill="#000"/>
<circle cx="491.5" cy="201.3" r="2.7" fill="#000"/>
<path stroke="#000" stroke-width="1.5" d="M354.7,199.5H371.3"/>
<circle cx="363" cy="199.5" r="2.7" fill="#000"/>
<text x="375.8" y="203" font-size="10" text-anchor="start" fill="#231f20" textLength="53.2" lengthAdjust="spacingAndGlyphs">TPO + c-MPL</text>
<path stroke="#d98b6e" stroke-width="1.5" d="M354.7,215.7H371.3"/>
<rect x="360.65" y="213.35" width="4.7" height="4.7" fill="none" stroke="#000" stroke-width="1.2"/>
<text x="375.8" y="219.2" font-size="10" text-anchor="start" fill="#231f20" textLength="61.5" lengthAdjust="spacingAndGlyphs">+ 0.02 μM IFNγ</text>
<path stroke="#cd6f55" stroke-width="1.5" d="M354.7,232.1H371.3"/>
<circle cx="363" cy="232.1" r="2.35" fill="none" stroke="#000" stroke-width="1.25"/>
<text x="375.8" y="235.6" font-size="10" text-anchor="start" fill="#231f20" textLength="56.7" lengthAdjust="spacingAndGlyphs">+ 0.2 μM IFNγ</text>
<path stroke="#a21e1b" stroke-width="2.1" d="M354.7,249H371.3"/>
<path fill="#000" d="M363,245.8L365.9,251.6L360.1,251.6Z"/>
<text x="375.8" y="252.5" font-size="10" text-anchor="start" fill="#231f20" textLength="48.4" lengthAdjust="spacingAndGlyphs">+ 1 μM IFNγ</text>
<path fill="none" stroke="#222" stroke-width="1.05" d="M88.1,602.74V611.52M88.1,617.32V626.1M85.4,602.74H90.8M85.4,626.1H90.8"/>
<path fill="none" stroke="#222" stroke-width="1.05" d="M97.8,581.37V589.55M97.8,595.35V603.44M95.1,581.37H100.5M95.1,603.44H100.5"/>
<path fill="none" stroke="#222" stroke-width="1.05" d="M108.8,542.13V561.5M108.8,567.3V585.56M106.1,542.13H111.5M106.1,585.56H111.5"/>
<path fill="none" stroke="#222" stroke-width="1.05" d="M120.5,500.9V509.18M120.5,514.98V522.96M117.8,500.9H123.2M117.8,522.96H123.2"/>
<path fill="none" stroke="#222" stroke-width="1.05" d="M131.9,504.49V528.05M131.9,533.85V556.71M129.2,504.49H134.6M129.2,556.71H134.6"/>
<path fill="none" stroke="#222" stroke-width="1.05" d="M143.8,506.49V518.27M143.8,524.07V535.04M141.1,506.49H146.5M141.1,535.04H146.5"/>
<path fill="none" stroke="#222" stroke-width="1.05" d="M155,485.12V489.91M155,495.71V500.5M152.3,485.12H157.7M152.3,500.5H157.7"/>
<path fill="none" stroke="#222" stroke-width="1.05" d="M166.9,504.29V508.48M166.9,514.28V518.67M164.2,504.29H169.6M164.2,518.67H169.6"/>
<path fill="none" stroke="#222" stroke-width="1.05" d="M178.5,498.5V501.39M178.5,507.19V510.08M175.8,498.5H181.2M175.8,510.08H181.2"/>
<path fill="none" stroke="#222" stroke-width="1.05" d="M76.7,594V596.7M76.7,602.5V603.8M74,594H79.4M74,603.8H79.4"/>
<path fill="none" stroke="#222" stroke-width="1.05" d="M88.1,552.3V563.2M88.1,569V579.5M85.4,552.3H90.8M85.4,579.5H90.8"/>
<path fill="none" stroke="#222" stroke-width="1.05" d="M97.8,537.2V548.2M97.8,554V565.3M95.1,537.2H100.5M95.1,565.3H100.5"/>
<path fill="none" stroke="#222" stroke-width="1.05" d="M108.8,506.4V520.9M108.8,526.7V541M106.1,506.4H111.5M106.1,541H111.5"/>
<path fill="none" stroke="#222" stroke-width="1.05" d="M120.5,501.4V510.2M120.5,516V520M117.8,501.4H123.2M117.8,520H123.2"/>
<path fill="none" stroke="#222" stroke-width="1.05" d="M178.5,479.8V485.6M178.5,491.4V495.2M175.8,479.8H181.2M175.8,495.2H181.2"/>
<path fill="none" stroke="#222" stroke-width="1.05" d="M190,508V511.9M190,517.7V520M187.3,508H192.7M187.3,520H192.7"/>
<path fill="none" stroke="#222" stroke-width="1.05" d="M201.5,510V510.6M201.5,516.4V518M198.8,510H204.2M198.8,518H204.2"/>
<path fill="none" stroke="#222" stroke-width="1.05" d="M88.1,593V595.3M88.1,601.1V604M85.4,593H90.8M85.4,604H90.8"/>
<path fill="none" stroke="#222" stroke-width="1.05" d="M97.8,562.3V563M95.1,557H100.5M95.1,563H100.5"/>
<path fill="none" stroke="#222" stroke-width="1.05" d="M108.8,532.7V533.1M108.8,538.9V542.7M106.1,532.7H111.5M106.1,542.7H111.5"/>
<path fill="none" stroke="#222" stroke-width="1.05" d="M120.5,524.8V526.4M120.5,532.2V532.4M117.8,524.8H123.2M117.8,532.4H123.2"/>
<path fill="none" stroke="#222" stroke-width="1.05" d="M143.8,502.9V509.6M143.8,515.4V535.6M141.1,502.9H146.5M141.1,535.6H146.5"/>
<path fill="none" stroke="#222" stroke-width="1.05" d="M155,485.6V501.3M155,507.1V507.7M152.3,485.6H157.7M152.3,507.7H157.7"/>
<path fill="none" stroke="#222" stroke-width="1.05" d="M166.9,486.5V488.4M166.9,494.2V495.2M164.2,486.5H169.6M164.2,495.2H169.6"/>
<polyline fill="none" stroke="#8c3d8c" stroke-width="1.6" stroke-linecap="round" stroke-linejoin="round" points="76.7,588.65 78.26,586.12 79.82,583.5 81.38,580.8 82.94,578.03 84.5,575.19 86.06,572.29 87.62,569.35 89.18,566.38 90.74,563.38 92.3,560.39 93.86,557.39 95.42,554.42 96.98,551.48 98.54,548.59 100.1,545.75 101.66,542.98 103.22,540.28 104.78,537.67 106.34,535.15 107.9,532.73 109.46,530.41 111.02,528.19 112.58,526.08 114.14,524.07 115.7,522.18 117.26,520.39 118.82,518.71 120.38,517.13 121.94,515.65 123.5,514.27 125.06,512.98 126.62,511.78 128.18,510.67 129.74,509.63 131.3,508.67 132.86,507.79 134.42,506.97 135.98,506.21 137.54,505.51 139.1,504.87 140.66,504.28 142.22,503.74 143.78,503.24 145.34,502.79 146.9,502.37 148.46,501.98 150.02,501.63 151.58,501.31 153.14,501.02 154.7,500.75 156.26,500.5 157.82,500.27 159.38,500.07 160.94,499.88 162.5,499.71 164.06,499.55 165.62,499.41 167.18,499.28 168.74,499.16 170.3,499.05 171.86,498.95 173.42,498.86 174.98,498.78 176.54,498.7 178.1,498.63 179.66,498.57 181.22,498.51 182.78,498.46 184.34,498.42 185.9,498.37 187.46,498.33 189.02,498.3 190.58,498.26 192.14,498.24 193.7,498.21 195.26,498.18 196.82,498.16 198.38,498.14 199.94,498.12 201.5,498.1"/>
<polyline fill="none" stroke="#37a03d" stroke-width="1.6" stroke-linecap="round" stroke-linejoin="round" points="76.7,601.22 78.26,599.29 79.82,597.25 81.38,595.11 82.94,592.85 84.5,590.49 86.06,588.03 87.62,585.47 89.18,582.81 90.74,580.08 92.3,577.27 93.86,574.39 95.42,571.46 96.98,568.49 98.54,565.48 100.1,562.46 101.66,559.43 103.22,556.41 104.78,553.42 106.34,550.45 107.9,547.53 109.46,544.67 111.02,541.88 112.58,539.17 114.14,536.54 115.7,534 117.26,531.57 118.82,529.23 120.38,527 121.94,524.88 123.5,522.87 125.06,520.97 126.62,519.17 128.18,517.48 129.74,515.9 131.3,514.41 132.86,513.03 134.42,511.74 135.98,510.53 137.54,509.42 139.1,508.38 140.66,507.42 142.22,506.53 143.78,505.71 145.34,504.95 146.9,504.25 148.46,503.61 150.02,503.02 151.58,502.48 153.14,501.98 154.7,501.52 156.26,501.1 157.82,500.72 159.38,500.37 160.94,500.04 162.5,499.75 164.06,499.48 165.62,499.23 167.18,499.01 168.74,498.8 170.3,498.61 171.86,498.44 173.42,498.28 174.98,498.14 176.54,498.01 178.1,497.89 179.66,497.78 181.22,497.68 182.78,497.59 184.34,497.51 185.9,497.43 187.46,497.37 189.02,497.3 190.58,497.25 192.14,497.2 193.7,497.15 195.26,497.1 196.82,497.07 198.38,497.03 199.94,497 201.5,496.97"/>
<polyline fill="none" stroke="#000" stroke-width="1.6" stroke-linecap="round" stroke-linejoin="round" points="76.7,611.09 78.26,609.81 79.82,608.44 81.38,606.98 82.94,605.41 84.5,603.75 86.06,601.98 87.62,600.1 89.18,598.12 90.74,596.03 92.3,593.83 93.86,591.53 95.42,589.13 96.98,586.63 98.54,584.05 100.1,581.38 101.66,578.63 103.22,575.82 104.78,572.95 106.34,570.04 107.9,567.1 109.46,564.14 111.02,561.17 112.58,558.21 114.14,555.27 115.7,552.35 117.26,549.49 118.82,546.67 120.38,543.93 121.94,541.25 123.5,538.66 125.06,536.16 126.62,533.76 128.18,531.46 129.74,529.26 131.3,527.16 132.86,525.17 134.42,523.29 135.98,521.52 137.54,519.85 139.1,518.28 140.66,516.81 142.22,515.44 143.78,514.16 145.34,512.96 146.9,511.86 148.46,510.83 150.02,509.88 151.58,509 153.14,508.18 154.7,507.43 156.26,506.74 157.82,506.1 159.38,505.51 160.94,504.98 162.5,504.48 164.06,504.03 165.62,503.61 167.18,503.23 168.74,502.88 170.3,502.56 171.86,502.27 173.42,502 174.98,501.75 176.54,501.53 178.1,501.32 179.66,501.14 181.22,500.97 182.78,500.81 184.34,500.67 185.9,500.54 187.46,500.42 189.02,500.31 190.58,500.21 192.14,500.12 193.7,500.04 195.26,499.97 196.82,499.9 198.38,499.84 199.94,499.78 201.5,499.73"/>
<circle cx="76.7" cy="606" r="2.35" fill="none" stroke="#000" stroke-width="1.25"/>
<circle cx="88.1" cy="598.2" r="2.35" fill="none" stroke="#000" stroke-width="1.25"/>
<circle cx="97.8" cy="559.4" r="2.35" fill="none" stroke="#000" stroke-width="1.25"/>
<circle cx="108.8" cy="536" r="2.35" fill="none" stroke="#000" stroke-width="1.25"/>
<circle cx="120.5" cy="529.3" r="2.35" fill="none" stroke="#000" stroke-width="1.25"/>
<circle cx="131.9" cy="503.4" r="2.35" fill="none" stroke="#000" stroke-width="1.25"/>
<circle cx="143.8" cy="512.5" r="2.35" fill="none" stroke="#000" stroke-width="1.25"/>
<circle cx="155" cy="504.2" r="2.35" fill="none" stroke="#000" stroke-width="1.25"/>
<circle cx="166.9" cy="491.3" r="2.35" fill="none" stroke="#000" stroke-width="1.25"/>
<circle cx="178.5" cy="490" r="2.35" fill="none" stroke="#000" stroke-width="1.25"/>
<circle cx="190" cy="505.4" r="2.35" fill="none" stroke="#000" stroke-width="1.25"/>
<circle cx="201.5" cy="513.5" r="2.35" fill="none" stroke="#000" stroke-width="1.25"/>
<rect x="74.35" y="597.25" width="4.7" height="4.7" fill="none" stroke="#000" stroke-width="1.2"/>
<rect x="85.75" y="563.75" width="4.7" height="4.7" fill="none" stroke="#000" stroke-width="1.2"/>
<rect x="95.45" y="548.75" width="4.7" height="4.7" fill="none" stroke="#000" stroke-width="1.2"/>
<rect x="106.45" y="521.45" width="4.7" height="4.7" fill="none" stroke="#000" stroke-width="1.2"/>
<rect x="118.15" y="510.75" width="4.7" height="4.7" fill="none" stroke="#000" stroke-width="1.2"/>
<rect x="129.55" y="498.55" width="4.7" height="4.7" fill="none" stroke="#000" stroke-width="1.2"/>
<rect x="141.45" y="507.25" width="4.7" height="4.7" fill="none" stroke="#000" stroke-width="1.2"/>
<rect x="152.65" y="494.75" width="4.7" height="4.7" fill="none" stroke="#000" stroke-width="1.2"/>
<rect x="176.15" y="486.15" width="4.7" height="4.7" fill="none" stroke="#000" stroke-width="1.2"/>
<rect x="187.65" y="512.45" width="4.7" height="4.7" fill="none" stroke="#000" stroke-width="1.2"/>
<rect x="199.15" y="511.15" width="4.7" height="4.7" fill="none" stroke="#000" stroke-width="1.2"/>
<circle cx="88.1" cy="614.42" r="2.7" fill="#000"/>
<circle cx="97.8" cy="592.45" r="2.7" fill="#000"/>
<circle cx="108.8" cy="564.4" r="2.7" fill="#000"/>
<circle cx="120.5" cy="512.08" r="2.7" fill="#000"/>
<circle cx="131.9" cy="530.95" r="2.7" fill="#000"/>
<circle cx="143.8" cy="521.17" r="2.7" fill="#000"/>
<circle cx="155" cy="492.81" r="2.7" fill="#000"/>
<circle cx="166.9" cy="511.38" r="2.7" fill="#000"/>
<circle cx="178.5" cy="504.29" r="2.7" fill="#000"/>
<circle cx="190" cy="494.71" r="2.7" fill="#000"/>
<circle cx="201.5" cy="501" r="2.7" fill="#000"/>
<path stroke="#000" stroke-width="1.5" d="M122.8,588.1H139.7"/>
<circle cx="131.25" cy="588.1" r="2.7" fill="#000"/>
<text x="144.4" y="591.6" font-size="10" text-anchor="start" fill="#231f20" textLength="53.3" lengthAdjust="spacingAndGlyphs">TPO + c-MPL</text>
<path stroke="#37a03d" stroke-width="1.5" d="M122.8,604.2H139.7"/>
<circle cx="131.25" cy="604.2" r="2.35" fill="none" stroke="#000" stroke-width="1.25"/>
<text x="144.4" y="607.7" font-size="10" text-anchor="start" fill="#231f20" textLength="46.7" lengthAdjust="spacingAndGlyphs">+ 1 μM SCF</text>
<path stroke="#8c3d8c" stroke-width="1.5" d="M122.8,621H139.7"/>
<rect x="128.9" y="618.65" width="4.7" height="4.7" fill="none" stroke="#000" stroke-width="1.2"/>
<text x="144.4" y="624.5" font-size="10" text-anchor="start" fill="#231f20" textLength="50.7" lengthAdjust="spacingAndGlyphs">+ 1 μM Flt3L</text>
<path fill="none" stroke="#222" stroke-width="1.05" d="M372.9,600.8V614.2M372.9,620V623.8M370.2,600.8H375.6M370.2,623.8H375.6"/>
<path fill="none" stroke="#222" stroke-width="1.05" d="M399.4,596V597.9M399.4,603.7V623.8M396.7,596H402.1M396.7,623.8H402.1"/>
<path fill="none" stroke="#222" stroke-width="1.05" d="M411.9,601.7V629.6M409.2,602.7H414.6M409.2,629.6H414.6"/>
<path fill="none" stroke="#222" stroke-width="1.05" d="M424.8,578.7V592.1M424.8,597.9V615.2M422.1,578.7H427.5M422.1,615.2H427.5"/>
<path fill="none" stroke="#222" stroke-width="1.05" d="M437.9,552.3V567.1M437.9,572.9V586.9M435.2,552.3H440.6M435.2,586.9H440.6"/>
<path fill="none" stroke="#222" stroke-width="1.05" d="M451.2,513.8V535.4M451.2,541.2V559.4M448.5,513.8H453.9M448.5,559.4H453.9"/>
<path fill="none" stroke="#222" stroke-width="1.05" d="M464.2,510.4V518.1M464.2,523.9V542M461.5,510.4H466.9M461.5,542H466.9"/>
<path fill="none" stroke="#222" stroke-width="1.05" d="M489.8,484V485.4M489.8,491.2V498M487.1,484H492.5M487.1,498H492.5"/>
<path fill="none" stroke="#222" stroke-width="1.05" d="M360,593V599.4M360,605.2V610M357.3,593H362.7M357.3,610H362.7"/>
<path fill="none" stroke="#222" stroke-width="1.05" d="M399.4,585.5V587.9M399.4,593.7V596M396.7,585.5H402.1M396.7,596H402.1"/>
<polyline fill="none" stroke="#8c3d8c" stroke-width="1.6" stroke-linecap="round" stroke-linejoin="round" points="349.5,618.3 351.25,618.27 353.01,618.25 354.76,618.22 356.51,618.18 358.27,618.15 360.02,618.1 361.78,618.06 363.53,618 365.28,617.95 367.04,617.88 368.79,617.81 370.55,617.73 372.3,617.64 374.05,617.53 375.81,617.42 377.56,617.29 379.31,617.15 381.07,617 382.82,616.82 384.57,616.62 386.33,616.41 388.08,616.16 389.84,615.89 391.59,615.59 393.34,615.25 395.1,614.88 396.85,614.46 398.61,614 400.36,613.48 402.11,612.91 403.87,612.28 405.62,611.58 407.37,610.8 409.13,609.94 410.88,608.99 412.63,607.95 414.39,606.8 416.14,605.53 417.9,604.15 419.65,602.63 421.4,600.97 423.16,599.16 424.91,597.19 426.67,595.06 428.42,592.76 430.17,590.28 431.93,587.62 433.68,584.77 435.43,581.75 437.19,578.54 438.94,575.16 440.69,571.61 442.45,567.9 444.2,564.05 445.96,560.08 447.71,556 449.46,551.83 451.22,547.61 452.97,543.35 454.73,539.08 456.48,534.84 458.23,530.63 459.99,526.5 461.74,522.46 463.49,518.53 465.25,514.74 467,511.09 468.75,507.6 470.51,504.29 472.26,501.15 474.02,498.2 475.77,495.42 477.52,492.84 479.28,490.42 481.03,488.19 482.79,486.12 484.54,484.22 486.29,482.47 488.05,480.87 489.8,479.4"/>
<polyline fill="none" stroke="#37a03d" stroke-width="1.6" stroke-linecap="round" stroke-linejoin="round" points="349.5,618.24 351.25,618.21 353.01,618.18 354.76,618.14 356.51,618.1 358.27,618.05 360.02,618 361.78,617.94 363.53,617.87 365.28,617.8 367.04,617.72 368.79,617.63 370.55,617.52 372.3,617.41 374.05,617.28 375.81,617.14 377.56,616.98 379.31,616.8 381.07,616.6 382.82,616.38 384.57,616.14 386.33,615.86 388.08,615.56 389.84,615.22 391.59,614.84 393.34,614.42 395.1,613.95 396.85,613.44 398.61,612.86 400.36,612.23 402.11,611.52 403.87,610.75 405.62,609.89 407.37,608.94 409.13,607.9 410.88,606.75 412.63,605.49 414.39,604.11 416.14,602.61 417.9,600.97 419.65,599.18 421.4,597.25 423.16,595.16 424.91,592.91 426.67,590.5 428.42,587.92 430.17,585.17 431.93,582.26 433.68,579.19 435.43,575.97 437.19,572.6 438.94,569.11 440.69,565.5 442.45,561.79 444.2,558.01 445.96,554.17 447.71,550.3 449.46,546.42 451.22,542.56 452.97,538.74 454.73,534.98 456.48,531.3 458.23,527.73 459.99,524.27 461.74,520.95 463.49,517.78 465.25,514.76 467,511.9 468.75,509.21 470.51,506.69 472.26,504.33 474.02,502.13 475.77,500.1 477.52,498.21 479.28,496.48 481.03,494.88 482.79,493.42 484.54,492.08 486.29,490.86 488.05,489.75 489.8,488.74"/>
<polyline fill="none" stroke="#000" stroke-width="1.7" stroke-linecap="round" stroke-linejoin="round" points="349.5,618.23 351.25,618.2 353.01,618.16 354.76,618.12 356.51,618.08 358.27,618.03 360.02,617.97 361.78,617.91 363.53,617.84 365.28,617.76 367.04,617.67 368.79,617.58 370.55,617.47 372.3,617.35 374.05,617.21 375.81,617.06 377.56,616.89 379.31,616.71 381.07,616.5 382.82,616.26 384.57,616 386.33,615.72 388.08,615.39 389.84,615.04 391.59,614.64 393.34,614.2 395.1,613.71 396.85,613.16 398.61,612.56 400.36,611.89 402.11,611.15 403.87,610.33 405.62,609.43 407.37,608.43 409.13,607.34 410.88,606.14 412.63,604.82 414.39,603.38 416.14,601.81 417.9,600.1 419.65,598.25 421.4,596.24 423.16,594.07 424.91,591.74 426.67,589.24 428.42,586.58 430.17,583.75 431.93,580.76 433.68,577.62 435.43,574.32 437.19,570.89 438.94,567.34 440.69,563.68 442.45,559.93 444.2,556.12 445.96,552.26 447.71,548.38 449.46,544.51 451.22,540.66 452.97,536.87 454.73,533.14 456.48,529.52 458.23,526 459.99,522.61 461.74,519.36 463.49,516.27 465.25,513.33 467,510.55 468.75,507.94 470.51,505.5 472.26,503.22 474.02,501.1 475.77,499.14 477.52,497.34 479.28,495.67 481.03,494.14 482.79,492.74 484.54,491.46 486.29,490.3 488.05,489.24 489.8,488.27"/>
<circle cx="360" cy="627.7" r="2.35" fill="none" stroke="#000" stroke-width="1.25"/>
<circle cx="372.9" cy="606.9" r="2.35" fill="none" stroke="#000" stroke-width="1.25"/>
<circle cx="399.4" cy="624.8" r="2.35" fill="none" stroke="#000" stroke-width="1.25"/>
<circle cx="411.9" cy="604.6" r="2.35" fill="none" stroke="#000" stroke-width="1.25"/>
<circle cx="424.8" cy="597.9" r="2.35" fill="none" stroke="#000" stroke-width="1.25"/>
<circle cx="437.9" cy="560.4" r="2.35" fill="none" stroke="#000" stroke-width="1.25"/>
<circle cx="451.2" cy="530.6" r="2.35" fill="none" stroke="#000" stroke-width="1.25"/>
<circle cx="464.2" cy="536" r="2.35" fill="none" stroke="#000" stroke-width="1.25"/>
<circle cx="476.7" cy="497.9" r="2.35" fill="none" stroke="#000" stroke-width="1.25"/>
<rect x="357.65" y="599.95" width="4.7" height="4.7" fill="none" stroke="#000" stroke-width="1.2"/>
<rect x="370.55" y="609.95" width="4.7" height="4.7" fill="none" stroke="#000" stroke-width="1.2"/>
<rect x="397.05" y="588.45" width="4.7" height="4.7" fill="none" stroke="#000" stroke-width="1.2"/>
<rect x="409.55" y="625.65" width="4.7" height="4.7" fill="none" stroke="#000" stroke-width="1.2"/>
<rect x="422.45" y="587.85" width="4.7" height="4.7" fill="none" stroke="#000" stroke-width="1.2"/>
<rect x="435.55" y="577.65" width="4.7" height="4.7" fill="none" stroke="#000" stroke-width="1.2"/>
<rect x="448.85" y="548.45" width="4.7" height="4.7" fill="none" stroke="#000" stroke-width="1.2"/>
<rect x="461.85" y="516.65" width="4.7" height="4.7" fill="none" stroke="#000" stroke-width="1.2"/>
<rect x="474.35" y="495.55" width="4.7" height="4.7" fill="none" stroke="#000" stroke-width="1.2"/>
<rect x="487.45" y="492.65" width="4.7" height="4.7" fill="none" stroke="#000" stroke-width="1.2"/>
<circle cx="360" cy="618.1" r="2.7" fill="#000"/>
<circle cx="372.9" cy="617.1" r="2.7" fill="#000"/>
<circle cx="386.3" cy="596.9" r="2.7" fill="#000"/>
<circle cx="399.4" cy="600.8" r="2.7" fill="#000"/>
<circle cx="411.9" cy="598.8" r="2.7" fill="#000"/>
<circle cx="424.8" cy="595" r="2.7" fill="#000"/>
<circle cx="437.9" cy="570" r="2.7" fill="#000"/>
<circle cx="451.2" cy="538.3" r="2.7" fill="#000"/>
<circle cx="464.2" cy="521" r="2.7" fill="#000"/>
<circle cx="476.7" cy="497.9" r="2.7" fill="#000"/>
<circle cx="489.8" cy="488.3" r="2.7" fill="#000"/>
<path stroke="#000" stroke-width="1.5" d="M354.7,485H371.3"/>
<circle cx="363" cy="485" r="2.7" fill="#000"/>
<text x="375.8" y="488.5" font-size="10" text-anchor="start" fill="#231f20" textLength="53.2" lengthAdjust="spacingAndGlyphs">TPO + c-MPL</text>
<path stroke="#37a03d" stroke-width="1.5" d="M354.7,501.2H371.3"/>
<circle cx="363" cy="501.2" r="2.35" fill="none" stroke="#000" stroke-width="1.25"/>
<text x="375.8" y="504.7" font-size="10" text-anchor="start" fill="#231f20" textLength="44.6" lengthAdjust="spacingAndGlyphs">+ 1μM SCF</text>
<path stroke="#8c3d8c" stroke-width="1.5" d="M354.7,517.7H371.3"/>
<rect x="360.65" y="515.35" width="4.7" height="4.7" fill="none" stroke="#000" stroke-width="1.2"/>
<text x="375.8" y="521.2" font-size="10" text-anchor="start" fill="#231f20" textLength="49" lengthAdjust="spacingAndGlyphs">+ 1μM Flt3L</text>
<path d="M65.8,889.9H220" stroke="#8a8a8a" stroke-width="1.2"/>
<rect x="71.3" y="888.2" width="5.6" height="5.6" fill="#111"/>
<rect x="83.3" y="887.9" width="5.6" height="5.6" fill="#111"/>
<rect x="94.8" y="895" width="5.6" height="5.6" fill="#111"/>
<rect x="106.9" y="895.7" width="5.6" height="5.6" fill="#111"/>
<rect x="118.6" y="885.9" width="5.6" height="5.6" fill="#111"/>
<rect x="130.1" y="884.9" width="5.6" height="5.6" fill="#111"/>
<rect x="141.8" y="887.2" width="5.6" height="5.6" fill="#111"/>
<rect x="153.6" y="892.8" width="5.6" height="5.6" fill="#111"/>
<rect x="165" y="886.5" width="5.6" height="5.6" fill="#111"/>
<rect x="177.1" y="886.5" width="5.6" height="5.6" fill="#111"/>
<rect x="188.9" y="886.2" width="5.6" height="5.6" fill="#111"/>
<rect x="200.3" y="886.2" width="5.6" height="5.6" fill="#111"/>
<path stroke="#8a8a8a" stroke-width="1.3" d="M70.2,760.4H87.5"/>
<rect x="76.42" y="758.02" width="4.76" height="4.76" fill="#111"/>
<text x="92.3" y="763.6" font-size="10" text-anchor="start" fill="#231f20" textLength="54" lengthAdjust="spacingAndGlyphs">IFNγ + c-MPL</text>
<path d="M350,890.3H504" stroke="#111" stroke-width="1.1" stroke-dasharray="1.4,1.6"/>
<polyline fill="none" stroke="#999" stroke-width="1.6" stroke-linecap="round" stroke-linejoin="round" points="350,890.21 351.72,890.2 353.44,890.19 355.17,890.18 356.89,890.17 358.61,890.16 360.33,890.15 362.06,890.14 363.78,890.13 365.5,890.12 367.23,890.1 368.95,890.08 370.67,890.07 372.39,890.05 374.12,890.03 375.84,890.01 377.56,889.98 379.28,889.96 381,889.93 382.73,889.9 384.45,889.87 386.17,889.84 387.89,889.8 389.62,889.76 391.34,889.72 393.06,889.67 394.79,889.62 396.51,889.57 398.23,889.51 399.95,889.45 401.68,889.38 403.4,889.31 405.12,889.23 406.84,889.15 408.56,889.06 410.29,888.96 412.01,888.86 413.73,888.74 415.46,888.62 417.18,888.49 418.9,888.35 420.62,888.19 422.35,888.03 424.07,887.85 425.79,887.66 427.51,887.45 429.24,887.23 430.96,886.99 432.68,886.74 434.4,886.46 436.12,886.17 437.85,885.85 439.57,885.51 441.29,885.14 443.01,884.75 444.74,884.32 446.46,883.87 448.18,883.38 449.9,882.86 451.63,882.31 453.35,881.71 455.07,881.07 456.8,880.39 458.52,879.66 460.24,878.88 461.96,878.05 463.69,877.17 465.41,876.23 467.13,875.24 468.85,874.17 470.57,873.05 472.3,871.86 474.02,870.6 475.74,869.27 477.47,867.86 479.19,866.38 480.91,864.83 482.63,863.19 484.36,861.48 486.08,859.69 487.8,857.81"/>
<path fill="none" stroke="#222" stroke-width="1.05" d="M374.4,890V897.5M371.7,890H377.1M371.7,897.5H377.1"/>
<path fill="none" stroke="#222" stroke-width="1.05" d="M402.8,880.5V892M400.1,880.5H405.5M400.1,892H405.5"/>
<path fill="none" stroke="#222" stroke-width="1.05" d="M459.4,880V891M456.7,880H462.1M456.7,891H462.1"/>
<path fill="none" stroke="#222" stroke-width="1.05" d="M473.4,845.2V886.1M470.7,845.2H476.1M470.7,886.1H476.1"/>
<path fill="none" stroke="#222" stroke-width="1.05" d="M487.8,838V886.1M485.1,838H490.5M485.1,886.1H490.5"/>
<rect x="357.6" y="885.2" width="5.6" height="5.6" fill="#111"/>
<rect x="371.6" y="890.8" width="5.6" height="5.6" fill="#111"/>
<rect x="385.7" y="889.5" width="5.6" height="5.6" fill="#111"/>
<rect x="400" y="883.3" width="5.6" height="5.6" fill="#111"/>
<rect x="414.1" y="887.5" width="5.6" height="5.6" fill="#111"/>
<rect x="428.8" y="888.2" width="5.6" height="5.6" fill="#111"/>
<rect x="442.9" y="884.9" width="5.6" height="5.6" fill="#111"/>
<rect x="456.6" y="882.6" width="5.6" height="5.6" fill="#111"/>
<rect x="470.6" y="862.4" width="5.6" height="5.6" fill="#111"/>
<rect x="485" y="859.7" width="5.6" height="5.6" fill="#111"/>
<path stroke="#8a8a8a" stroke-width="1.3" d="M356.4,757H375"/>
<rect x="363.22" y="754.62" width="4.76" height="4.76" fill="#111"/>
<text x="378.3" y="760.3" font-size="10" text-anchor="start" fill="#231f20" textLength="54.3" lengthAdjust="spacingAndGlyphs">IFNγ + c-MPL</text>
</svg>
</body></html>
